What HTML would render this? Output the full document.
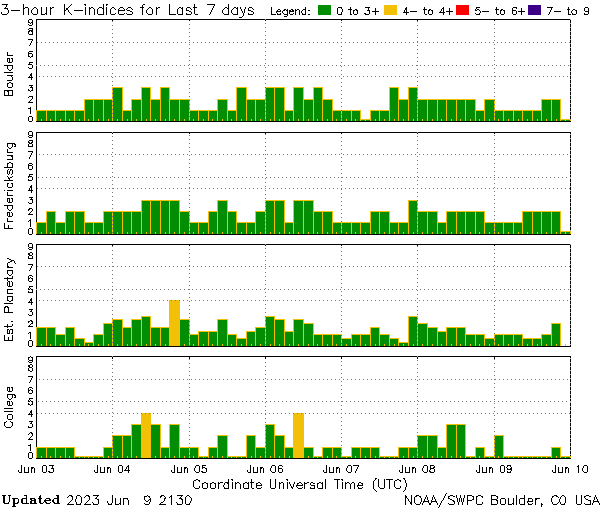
<!DOCTYPE html>
<html><head><meta charset="utf-8"><title>3-hour K-indices for Last 7 days</title>
<style>html,body{margin:0;padding:0;background:#fff;font-family:"Liberation Sans",sans-serif}svg{display:block}</style></head>
<body><svg width="600" height="510" viewBox="0 0 600 510" shape-rendering="crispEdges">
<title>3-hour K-indices for Last 7 days</title>
<desc>Legend: 0 to 3+ (green), 4- to 4+ (yellow), 5- to 6+ (red), 7- to 9 (purple). Panels: Boulder, Fredericksburg, Est. Planetary, College. X axis Jun 03 to Jun 10, Coordinate Universal Time (UTC). Updated 2023 Jun 9 2130. NOAA/SWPC Boulder, CO USA</desc>
<rect width="600" height="510" fill="#fff"/>
<g id="panel0">
<rect x="36" y="19" width="535" height="1" fill="#000"/>
<rect x="36" y="19" width="1" height="103" fill="#000"/>
<rect x="570" y="19" width="1" height="103" fill="#000"/>
<rect x="36" y="110" width="11" height="11" fill="#f3c008"/>
<rect x="37" y="111" width="9" height="10" fill="#038d03"/>
<rect x="46" y="110" width="10" height="11" fill="#f3c008"/>
<rect x="47" y="111" width="8" height="10" fill="#038d03"/>
<rect x="55" y="110" width="11" height="11" fill="#f3c008"/>
<rect x="56" y="111" width="9" height="10" fill="#038d03"/>
<rect x="65" y="110" width="10" height="11" fill="#f3c008"/>
<rect x="66" y="111" width="8" height="10" fill="#038d03"/>
<rect x="74" y="110" width="11" height="11" fill="#f3c008"/>
<rect x="75" y="111" width="9" height="10" fill="#038d03"/>
<rect x="84" y="99" width="10" height="22" fill="#f3c008"/>
<rect x="85" y="100" width="8" height="21" fill="#038d03"/>
<rect x="93" y="99" width="11" height="22" fill="#f3c008"/>
<rect x="94" y="100" width="9" height="21" fill="#038d03"/>
<rect x="103" y="99" width="10" height="22" fill="#f3c008"/>
<rect x="104" y="100" width="8" height="21" fill="#038d03"/>
<rect x="112" y="87" width="11" height="34" fill="#f3c008"/>
<rect x="113" y="88" width="9" height="33" fill="#038d03"/>
<rect x="122" y="110" width="10" height="11" fill="#f3c008"/>
<rect x="123" y="111" width="8" height="10" fill="#038d03"/>
<rect x="131" y="99" width="11" height="22" fill="#f3c008"/>
<rect x="132" y="100" width="9" height="21" fill="#038d03"/>
<rect x="141" y="87" width="10" height="34" fill="#f3c008"/>
<rect x="142" y="88" width="8" height="33" fill="#038d03"/>
<rect x="150" y="99" width="11" height="22" fill="#f3c008"/>
<rect x="151" y="100" width="9" height="21" fill="#038d03"/>
<rect x="160" y="87" width="10" height="34" fill="#f3c008"/>
<rect x="161" y="88" width="8" height="33" fill="#038d03"/>
<rect x="169" y="99" width="11" height="22" fill="#f3c008"/>
<rect x="170" y="100" width="9" height="21" fill="#038d03"/>
<rect x="179" y="99" width="11" height="22" fill="#f3c008"/>
<rect x="180" y="100" width="9" height="21" fill="#038d03"/>
<rect x="189" y="110" width="10" height="11" fill="#f3c008"/>
<rect x="190" y="111" width="8" height="10" fill="#038d03"/>
<rect x="198" y="110" width="11" height="11" fill="#f3c008"/>
<rect x="199" y="111" width="9" height="10" fill="#038d03"/>
<rect x="208" y="110" width="10" height="11" fill="#f3c008"/>
<rect x="209" y="111" width="8" height="10" fill="#038d03"/>
<rect x="217" y="99" width="11" height="22" fill="#f3c008"/>
<rect x="218" y="100" width="9" height="21" fill="#038d03"/>
<rect x="227" y="110" width="10" height="11" fill="#f3c008"/>
<rect x="228" y="111" width="8" height="10" fill="#038d03"/>
<rect x="236" y="87" width="11" height="34" fill="#f3c008"/>
<rect x="237" y="88" width="9" height="33" fill="#038d03"/>
<rect x="246" y="99" width="10" height="22" fill="#f3c008"/>
<rect x="247" y="100" width="8" height="21" fill="#038d03"/>
<rect x="255" y="99" width="11" height="22" fill="#f3c008"/>
<rect x="256" y="100" width="9" height="21" fill="#038d03"/>
<rect x="265" y="87" width="10" height="34" fill="#f3c008"/>
<rect x="266" y="88" width="8" height="33" fill="#038d03"/>
<rect x="274" y="87" width="11" height="34" fill="#f3c008"/>
<rect x="275" y="88" width="9" height="33" fill="#038d03"/>
<rect x="284" y="110" width="10" height="11" fill="#f3c008"/>
<rect x="285" y="111" width="8" height="10" fill="#038d03"/>
<rect x="293" y="87" width="11" height="34" fill="#f3c008"/>
<rect x="294" y="88" width="9" height="33" fill="#038d03"/>
<rect x="303" y="99" width="11" height="22" fill="#f3c008"/>
<rect x="304" y="100" width="9" height="21" fill="#038d03"/>
<rect x="313" y="87" width="10" height="34" fill="#f3c008"/>
<rect x="314" y="88" width="8" height="33" fill="#038d03"/>
<rect x="322" y="99" width="11" height="22" fill="#f3c008"/>
<rect x="323" y="100" width="9" height="21" fill="#038d03"/>
<rect x="332" y="110" width="10" height="11" fill="#f3c008"/>
<rect x="333" y="111" width="8" height="10" fill="#038d03"/>
<rect x="341" y="110" width="11" height="11" fill="#f3c008"/>
<rect x="342" y="111" width="9" height="10" fill="#038d03"/>
<rect x="351" y="110" width="10" height="11" fill="#f3c008"/>
<rect x="352" y="111" width="8" height="10" fill="#038d03"/>
<rect x="360" y="119" width="11" height="2" fill="#f3c008"/>
<rect x="361" y="120" width="9" height="1" fill="#038d03"/>
<rect x="370" y="110" width="10" height="11" fill="#f3c008"/>
<rect x="371" y="111" width="8" height="10" fill="#038d03"/>
<rect x="379" y="110" width="11" height="11" fill="#f3c008"/>
<rect x="380" y="111" width="9" height="10" fill="#038d03"/>
<rect x="389" y="87" width="10" height="34" fill="#f3c008"/>
<rect x="390" y="88" width="8" height="33" fill="#038d03"/>
<rect x="398" y="99" width="11" height="22" fill="#f3c008"/>
<rect x="399" y="100" width="9" height="21" fill="#038d03"/>
<rect x="408" y="87" width="10" height="34" fill="#f3c008"/>
<rect x="409" y="88" width="8" height="33" fill="#038d03"/>
<rect x="417" y="99" width="11" height="22" fill="#f3c008"/>
<rect x="418" y="100" width="9" height="21" fill="#038d03"/>
<rect x="427" y="99" width="11" height="22" fill="#f3c008"/>
<rect x="428" y="100" width="9" height="21" fill="#038d03"/>
<rect x="437" y="99" width="10" height="22" fill="#f3c008"/>
<rect x="438" y="100" width="8" height="21" fill="#038d03"/>
<rect x="446" y="99" width="11" height="22" fill="#f3c008"/>
<rect x="447" y="100" width="9" height="21" fill="#038d03"/>
<rect x="456" y="99" width="10" height="22" fill="#f3c008"/>
<rect x="457" y="100" width="8" height="21" fill="#038d03"/>
<rect x="465" y="99" width="11" height="22" fill="#f3c008"/>
<rect x="466" y="100" width="9" height="21" fill="#038d03"/>
<rect x="475" y="110" width="10" height="11" fill="#f3c008"/>
<rect x="476" y="111" width="8" height="10" fill="#038d03"/>
<rect x="484" y="99" width="11" height="22" fill="#f3c008"/>
<rect x="485" y="100" width="9" height="21" fill="#038d03"/>
<rect x="494" y="110" width="10" height="11" fill="#f3c008"/>
<rect x="495" y="111" width="8" height="10" fill="#038d03"/>
<rect x="503" y="110" width="11" height="11" fill="#f3c008"/>
<rect x="504" y="111" width="9" height="10" fill="#038d03"/>
<rect x="513" y="110" width="10" height="11" fill="#f3c008"/>
<rect x="514" y="111" width="8" height="10" fill="#038d03"/>
<rect x="522" y="110" width="11" height="11" fill="#f3c008"/>
<rect x="523" y="111" width="9" height="10" fill="#038d03"/>
<rect x="532" y="110" width="10" height="11" fill="#f3c008"/>
<rect x="533" y="111" width="8" height="10" fill="#038d03"/>
<rect x="541" y="99" width="11" height="22" fill="#f3c008"/>
<rect x="542" y="100" width="9" height="21" fill="#038d03"/>
<rect x="551" y="99" width="10" height="22" fill="#f3c008"/>
<rect x="552" y="100" width="8" height="21" fill="#038d03"/>
<rect x="560" y="119" width="11" height="2" fill="#f3c008"/>
<rect x="561" y="120" width="9" height="1" fill="#038d03"/>
<rect x="41" y="119" width="1" height="2" fill="#f3c008"/>
<rect x="50" y="119" width="1" height="2" fill="#f3c008"/>
<rect x="60" y="119" width="1" height="2" fill="#f3c008"/>
<rect x="69" y="119" width="1" height="2" fill="#f3c008"/>
<rect x="79" y="119" width="1" height="2" fill="#f3c008"/>
<rect x="88" y="119" width="1" height="2" fill="#f3c008"/>
<rect x="98" y="119" width="1" height="2" fill="#f3c008"/>
<rect x="108" y="119" width="1" height="2" fill="#f3c008"/>
<rect x="117" y="119" width="1" height="2" fill="#f3c008"/>
<rect x="127" y="119" width="1" height="2" fill="#f3c008"/>
<rect x="136" y="119" width="1" height="2" fill="#f3c008"/>
<rect x="146" y="119" width="1" height="2" fill="#f3c008"/>
<rect x="155" y="119" width="1" height="2" fill="#f3c008"/>
<rect x="165" y="119" width="1" height="2" fill="#f3c008"/>
<rect x="174" y="119" width="1" height="2" fill="#f3c008"/>
<rect x="184" y="119" width="1" height="2" fill="#f3c008"/>
<rect x="193" y="119" width="1" height="2" fill="#f3c008"/>
<rect x="203" y="119" width="1" height="2" fill="#f3c008"/>
<rect x="212" y="119" width="1" height="2" fill="#f3c008"/>
<rect x="222" y="119" width="1" height="2" fill="#f3c008"/>
<rect x="231" y="119" width="1" height="2" fill="#f3c008"/>
<rect x="241" y="119" width="1" height="2" fill="#f3c008"/>
<rect x="251" y="119" width="1" height="2" fill="#f3c008"/>
<rect x="260" y="119" width="1" height="2" fill="#f3c008"/>
<rect x="270" y="119" width="1" height="2" fill="#f3c008"/>
<rect x="279" y="119" width="1" height="2" fill="#f3c008"/>
<rect x="289" y="119" width="1" height="2" fill="#f3c008"/>
<rect x="298" y="119" width="1" height="2" fill="#f3c008"/>
<rect x="308" y="119" width="1" height="2" fill="#f3c008"/>
<rect x="317" y="119" width="1" height="2" fill="#f3c008"/>
<rect x="327" y="119" width="1" height="2" fill="#f3c008"/>
<rect x="336" y="119" width="1" height="2" fill="#f3c008"/>
<rect x="346" y="119" width="1" height="2" fill="#f3c008"/>
<rect x="355" y="119" width="1" height="2" fill="#f3c008"/>
<rect x="365" y="119" width="1" height="2" fill="#f3c008"/>
<rect x="375" y="119" width="1" height="2" fill="#f3c008"/>
<rect x="384" y="119" width="1" height="2" fill="#f3c008"/>
<rect x="394" y="119" width="1" height="2" fill="#f3c008"/>
<rect x="403" y="119" width="1" height="2" fill="#f3c008"/>
<rect x="413" y="119" width="1" height="2" fill="#f3c008"/>
<rect x="422" y="119" width="1" height="2" fill="#f3c008"/>
<rect x="432" y="119" width="1" height="2" fill="#f3c008"/>
<rect x="441" y="119" width="1" height="2" fill="#f3c008"/>
<rect x="451" y="119" width="1" height="2" fill="#f3c008"/>
<rect x="460" y="119" width="1" height="2" fill="#f3c008"/>
<rect x="470" y="119" width="1" height="2" fill="#f3c008"/>
<rect x="479" y="119" width="1" height="2" fill="#f3c008"/>
<rect x="489" y="119" width="1" height="2" fill="#f3c008"/>
<rect x="498" y="119" width="1" height="2" fill="#f3c008"/>
<rect x="508" y="119" width="1" height="2" fill="#f3c008"/>
<rect x="518" y="119" width="1" height="2" fill="#f3c008"/>
<rect x="527" y="119" width="1" height="2" fill="#f3c008"/>
<rect x="537" y="119" width="1" height="2" fill="#f3c008"/>
<rect x="546" y="119" width="1" height="2" fill="#f3c008"/>
<rect x="556" y="119" width="1" height="2" fill="#f3c008"/>
<rect x="565" y="119" width="1" height="2" fill="#f3c008"/>
<rect x="36" y="121" width="535" height="1" fill="#000"/>
</g>
<g id="panel1">
<rect x="36" y="132" width="535" height="1" fill="#000"/>
<rect x="36" y="132" width="1" height="103" fill="#000"/>
<rect x="570" y="132" width="1" height="103" fill="#000"/>
<rect x="36" y="222" width="11" height="12" fill="#f3c008"/>
<rect x="37" y="223" width="9" height="11" fill="#038d03"/>
<rect x="46" y="211" width="10" height="23" fill="#f3c008"/>
<rect x="47" y="212" width="8" height="22" fill="#038d03"/>
<rect x="55" y="222" width="11" height="12" fill="#f3c008"/>
<rect x="56" y="223" width="9" height="11" fill="#038d03"/>
<rect x="65" y="211" width="10" height="23" fill="#f3c008"/>
<rect x="66" y="212" width="8" height="22" fill="#038d03"/>
<rect x="74" y="211" width="11" height="23" fill="#f3c008"/>
<rect x="75" y="212" width="9" height="22" fill="#038d03"/>
<rect x="84" y="222" width="10" height="12" fill="#f3c008"/>
<rect x="85" y="223" width="8" height="11" fill="#038d03"/>
<rect x="93" y="222" width="11" height="12" fill="#f3c008"/>
<rect x="94" y="223" width="9" height="11" fill="#038d03"/>
<rect x="103" y="211" width="10" height="23" fill="#f3c008"/>
<rect x="104" y="212" width="8" height="22" fill="#038d03"/>
<rect x="112" y="211" width="11" height="23" fill="#f3c008"/>
<rect x="113" y="212" width="9" height="22" fill="#038d03"/>
<rect x="122" y="211" width="10" height="23" fill="#f3c008"/>
<rect x="123" y="212" width="8" height="22" fill="#038d03"/>
<rect x="131" y="211" width="11" height="23" fill="#f3c008"/>
<rect x="132" y="212" width="9" height="22" fill="#038d03"/>
<rect x="141" y="200" width="10" height="34" fill="#f3c008"/>
<rect x="142" y="201" width="8" height="33" fill="#038d03"/>
<rect x="150" y="200" width="11" height="34" fill="#f3c008"/>
<rect x="151" y="201" width="9" height="33" fill="#038d03"/>
<rect x="160" y="200" width="10" height="34" fill="#f3c008"/>
<rect x="161" y="201" width="8" height="33" fill="#038d03"/>
<rect x="169" y="200" width="11" height="34" fill="#f3c008"/>
<rect x="170" y="201" width="9" height="33" fill="#038d03"/>
<rect x="179" y="211" width="11" height="23" fill="#f3c008"/>
<rect x="180" y="212" width="9" height="22" fill="#038d03"/>
<rect x="189" y="222" width="10" height="12" fill="#f3c008"/>
<rect x="190" y="223" width="8" height="11" fill="#038d03"/>
<rect x="198" y="222" width="11" height="12" fill="#f3c008"/>
<rect x="199" y="223" width="9" height="11" fill="#038d03"/>
<rect x="208" y="211" width="10" height="23" fill="#f3c008"/>
<rect x="209" y="212" width="8" height="22" fill="#038d03"/>
<rect x="217" y="200" width="11" height="34" fill="#f3c008"/>
<rect x="218" y="201" width="9" height="33" fill="#038d03"/>
<rect x="227" y="211" width="10" height="23" fill="#f3c008"/>
<rect x="228" y="212" width="8" height="22" fill="#038d03"/>
<rect x="236" y="222" width="11" height="12" fill="#f3c008"/>
<rect x="237" y="223" width="9" height="11" fill="#038d03"/>
<rect x="246" y="222" width="10" height="12" fill="#f3c008"/>
<rect x="247" y="223" width="8" height="11" fill="#038d03"/>
<rect x="255" y="211" width="11" height="23" fill="#f3c008"/>
<rect x="256" y="212" width="9" height="22" fill="#038d03"/>
<rect x="265" y="200" width="10" height="34" fill="#f3c008"/>
<rect x="266" y="201" width="8" height="33" fill="#038d03"/>
<rect x="274" y="200" width="11" height="34" fill="#f3c008"/>
<rect x="275" y="201" width="9" height="33" fill="#038d03"/>
<rect x="284" y="222" width="10" height="12" fill="#f3c008"/>
<rect x="285" y="223" width="8" height="11" fill="#038d03"/>
<rect x="293" y="200" width="11" height="34" fill="#f3c008"/>
<rect x="294" y="201" width="9" height="33" fill="#038d03"/>
<rect x="303" y="200" width="11" height="34" fill="#f3c008"/>
<rect x="304" y="201" width="9" height="33" fill="#038d03"/>
<rect x="313" y="211" width="10" height="23" fill="#f3c008"/>
<rect x="314" y="212" width="8" height="22" fill="#038d03"/>
<rect x="322" y="211" width="11" height="23" fill="#f3c008"/>
<rect x="323" y="212" width="9" height="22" fill="#038d03"/>
<rect x="332" y="222" width="10" height="12" fill="#f3c008"/>
<rect x="333" y="223" width="8" height="11" fill="#038d03"/>
<rect x="341" y="222" width="11" height="12" fill="#f3c008"/>
<rect x="342" y="223" width="9" height="11" fill="#038d03"/>
<rect x="351" y="222" width="10" height="12" fill="#f3c008"/>
<rect x="352" y="223" width="8" height="11" fill="#038d03"/>
<rect x="360" y="222" width="11" height="12" fill="#f3c008"/>
<rect x="361" y="223" width="9" height="11" fill="#038d03"/>
<rect x="370" y="211" width="10" height="23" fill="#f3c008"/>
<rect x="371" y="212" width="8" height="22" fill="#038d03"/>
<rect x="379" y="211" width="11" height="23" fill="#f3c008"/>
<rect x="380" y="212" width="9" height="22" fill="#038d03"/>
<rect x="389" y="222" width="10" height="12" fill="#f3c008"/>
<rect x="390" y="223" width="8" height="11" fill="#038d03"/>
<rect x="398" y="222" width="11" height="12" fill="#f3c008"/>
<rect x="399" y="223" width="9" height="11" fill="#038d03"/>
<rect x="408" y="200" width="10" height="34" fill="#f3c008"/>
<rect x="409" y="201" width="8" height="33" fill="#038d03"/>
<rect x="417" y="211" width="11" height="23" fill="#f3c008"/>
<rect x="418" y="212" width="9" height="22" fill="#038d03"/>
<rect x="427" y="211" width="11" height="23" fill="#f3c008"/>
<rect x="428" y="212" width="9" height="22" fill="#038d03"/>
<rect x="437" y="222" width="10" height="12" fill="#f3c008"/>
<rect x="438" y="223" width="8" height="11" fill="#038d03"/>
<rect x="446" y="211" width="11" height="23" fill="#f3c008"/>
<rect x="447" y="212" width="9" height="22" fill="#038d03"/>
<rect x="456" y="211" width="10" height="23" fill="#f3c008"/>
<rect x="457" y="212" width="8" height="22" fill="#038d03"/>
<rect x="465" y="211" width="11" height="23" fill="#f3c008"/>
<rect x="466" y="212" width="9" height="22" fill="#038d03"/>
<rect x="475" y="211" width="10" height="23" fill="#f3c008"/>
<rect x="476" y="212" width="8" height="22" fill="#038d03"/>
<rect x="484" y="222" width="11" height="12" fill="#f3c008"/>
<rect x="485" y="223" width="9" height="11" fill="#038d03"/>
<rect x="494" y="222" width="10" height="12" fill="#f3c008"/>
<rect x="495" y="223" width="8" height="11" fill="#038d03"/>
<rect x="503" y="222" width="11" height="12" fill="#f3c008"/>
<rect x="504" y="223" width="9" height="11" fill="#038d03"/>
<rect x="513" y="222" width="10" height="12" fill="#f3c008"/>
<rect x="514" y="223" width="8" height="11" fill="#038d03"/>
<rect x="522" y="211" width="11" height="23" fill="#f3c008"/>
<rect x="523" y="212" width="9" height="22" fill="#038d03"/>
<rect x="532" y="211" width="10" height="23" fill="#f3c008"/>
<rect x="533" y="212" width="8" height="22" fill="#038d03"/>
<rect x="541" y="211" width="11" height="23" fill="#f3c008"/>
<rect x="542" y="212" width="9" height="22" fill="#038d03"/>
<rect x="551" y="211" width="10" height="23" fill="#f3c008"/>
<rect x="552" y="212" width="8" height="22" fill="#038d03"/>
<rect x="560" y="231" width="11" height="3" fill="#f3c008"/>
<rect x="561" y="232" width="9" height="2" fill="#038d03"/>
<rect x="41" y="232" width="1" height="2" fill="#f3c008"/>
<rect x="50" y="232" width="1" height="2" fill="#f3c008"/>
<rect x="60" y="232" width="1" height="2" fill="#f3c008"/>
<rect x="69" y="232" width="1" height="2" fill="#f3c008"/>
<rect x="79" y="232" width="1" height="2" fill="#f3c008"/>
<rect x="88" y="232" width="1" height="2" fill="#f3c008"/>
<rect x="98" y="232" width="1" height="2" fill="#f3c008"/>
<rect x="108" y="232" width="1" height="2" fill="#f3c008"/>
<rect x="117" y="232" width="1" height="2" fill="#f3c008"/>
<rect x="127" y="232" width="1" height="2" fill="#f3c008"/>
<rect x="136" y="232" width="1" height="2" fill="#f3c008"/>
<rect x="146" y="232" width="1" height="2" fill="#f3c008"/>
<rect x="155" y="232" width="1" height="2" fill="#f3c008"/>
<rect x="165" y="232" width="1" height="2" fill="#f3c008"/>
<rect x="174" y="232" width="1" height="2" fill="#f3c008"/>
<rect x="184" y="232" width="1" height="2" fill="#f3c008"/>
<rect x="193" y="232" width="1" height="2" fill="#f3c008"/>
<rect x="203" y="232" width="1" height="2" fill="#f3c008"/>
<rect x="212" y="232" width="1" height="2" fill="#f3c008"/>
<rect x="222" y="232" width="1" height="2" fill="#f3c008"/>
<rect x="231" y="232" width="1" height="2" fill="#f3c008"/>
<rect x="241" y="232" width="1" height="2" fill="#f3c008"/>
<rect x="251" y="232" width="1" height="2" fill="#f3c008"/>
<rect x="260" y="232" width="1" height="2" fill="#f3c008"/>
<rect x="270" y="232" width="1" height="2" fill="#f3c008"/>
<rect x="279" y="232" width="1" height="2" fill="#f3c008"/>
<rect x="289" y="232" width="1" height="2" fill="#f3c008"/>
<rect x="298" y="232" width="1" height="2" fill="#f3c008"/>
<rect x="308" y="232" width="1" height="2" fill="#f3c008"/>
<rect x="317" y="232" width="1" height="2" fill="#f3c008"/>
<rect x="327" y="232" width="1" height="2" fill="#f3c008"/>
<rect x="336" y="232" width="1" height="2" fill="#f3c008"/>
<rect x="346" y="232" width="1" height="2" fill="#f3c008"/>
<rect x="355" y="232" width="1" height="2" fill="#f3c008"/>
<rect x="365" y="232" width="1" height="2" fill="#f3c008"/>
<rect x="375" y="232" width="1" height="2" fill="#f3c008"/>
<rect x="384" y="232" width="1" height="2" fill="#f3c008"/>
<rect x="394" y="232" width="1" height="2" fill="#f3c008"/>
<rect x="403" y="232" width="1" height="2" fill="#f3c008"/>
<rect x="413" y="232" width="1" height="2" fill="#f3c008"/>
<rect x="422" y="232" width="1" height="2" fill="#f3c008"/>
<rect x="432" y="232" width="1" height="2" fill="#f3c008"/>
<rect x="441" y="232" width="1" height="2" fill="#f3c008"/>
<rect x="451" y="232" width="1" height="2" fill="#f3c008"/>
<rect x="460" y="232" width="1" height="2" fill="#f3c008"/>
<rect x="470" y="232" width="1" height="2" fill="#f3c008"/>
<rect x="479" y="232" width="1" height="2" fill="#f3c008"/>
<rect x="489" y="232" width="1" height="2" fill="#f3c008"/>
<rect x="498" y="232" width="1" height="2" fill="#f3c008"/>
<rect x="508" y="232" width="1" height="2" fill="#f3c008"/>
<rect x="518" y="232" width="1" height="2" fill="#f3c008"/>
<rect x="527" y="232" width="1" height="2" fill="#f3c008"/>
<rect x="537" y="232" width="1" height="2" fill="#f3c008"/>
<rect x="546" y="232" width="1" height="2" fill="#f3c008"/>
<rect x="556" y="232" width="1" height="2" fill="#f3c008"/>
<rect x="565" y="232" width="1" height="2" fill="#f3c008"/>
<rect x="36" y="234" width="535" height="1" fill="#000"/>
</g>
<g id="panel2">
<rect x="36" y="244" width="535" height="1" fill="#000"/>
<rect x="36" y="244" width="1" height="103" fill="#000"/>
<rect x="570" y="244" width="1" height="103" fill="#000"/>
<rect x="36" y="327" width="11" height="19" fill="#f3c008"/>
<rect x="37" y="328" width="9" height="18" fill="#038d03"/>
<rect x="46" y="327" width="10" height="19" fill="#f3c008"/>
<rect x="47" y="328" width="8" height="18" fill="#038d03"/>
<rect x="55" y="334" width="11" height="12" fill="#f3c008"/>
<rect x="56" y="335" width="9" height="11" fill="#038d03"/>
<rect x="65" y="327" width="10" height="19" fill="#f3c008"/>
<rect x="66" y="328" width="8" height="18" fill="#038d03"/>
<rect x="74" y="338" width="11" height="8" fill="#f3c008"/>
<rect x="75" y="339" width="9" height="7" fill="#038d03"/>
<rect x="84" y="342" width="10" height="4" fill="#f3c008"/>
<rect x="85" y="343" width="8" height="3" fill="#038d03"/>
<rect x="93" y="334" width="11" height="12" fill="#f3c008"/>
<rect x="94" y="335" width="9" height="11" fill="#038d03"/>
<rect x="103" y="323" width="10" height="23" fill="#f3c008"/>
<rect x="104" y="324" width="8" height="22" fill="#038d03"/>
<rect x="112" y="319" width="11" height="27" fill="#f3c008"/>
<rect x="113" y="320" width="9" height="26" fill="#038d03"/>
<rect x="122" y="327" width="10" height="19" fill="#f3c008"/>
<rect x="123" y="328" width="8" height="18" fill="#038d03"/>
<rect x="131" y="319" width="11" height="27" fill="#f3c008"/>
<rect x="132" y="320" width="9" height="26" fill="#038d03"/>
<rect x="141" y="316" width="10" height="30" fill="#f3c008"/>
<rect x="142" y="317" width="8" height="29" fill="#038d03"/>
<rect x="150" y="327" width="11" height="19" fill="#f3c008"/>
<rect x="151" y="328" width="9" height="18" fill="#038d03"/>
<rect x="160" y="327" width="10" height="19" fill="#f3c008"/>
<rect x="161" y="328" width="8" height="18" fill="#038d03"/>
<rect x="169" y="300" width="11" height="46" fill="#f3c008"/>
<rect x="179" y="319" width="11" height="27" fill="#f3c008"/>
<rect x="180" y="320" width="9" height="26" fill="#038d03"/>
<rect x="189" y="334" width="10" height="12" fill="#f3c008"/>
<rect x="190" y="335" width="8" height="11" fill="#038d03"/>
<rect x="198" y="331" width="11" height="15" fill="#f3c008"/>
<rect x="199" y="332" width="9" height="14" fill="#038d03"/>
<rect x="208" y="331" width="10" height="15" fill="#f3c008"/>
<rect x="209" y="332" width="8" height="14" fill="#038d03"/>
<rect x="217" y="319" width="11" height="27" fill="#f3c008"/>
<rect x="218" y="320" width="9" height="26" fill="#038d03"/>
<rect x="227" y="334" width="10" height="12" fill="#f3c008"/>
<rect x="228" y="335" width="8" height="11" fill="#038d03"/>
<rect x="236" y="338" width="11" height="8" fill="#f3c008"/>
<rect x="237" y="339" width="9" height="7" fill="#038d03"/>
<rect x="246" y="331" width="10" height="15" fill="#f3c008"/>
<rect x="247" y="332" width="8" height="14" fill="#038d03"/>
<rect x="255" y="327" width="11" height="19" fill="#f3c008"/>
<rect x="256" y="328" width="9" height="18" fill="#038d03"/>
<rect x="265" y="316" width="10" height="30" fill="#f3c008"/>
<rect x="266" y="317" width="8" height="29" fill="#038d03"/>
<rect x="274" y="319" width="11" height="27" fill="#f3c008"/>
<rect x="275" y="320" width="9" height="26" fill="#038d03"/>
<rect x="284" y="331" width="10" height="15" fill="#f3c008"/>
<rect x="285" y="332" width="8" height="14" fill="#038d03"/>
<rect x="293" y="319" width="11" height="27" fill="#f3c008"/>
<rect x="294" y="320" width="9" height="26" fill="#038d03"/>
<rect x="303" y="323" width="11" height="23" fill="#f3c008"/>
<rect x="304" y="324" width="9" height="22" fill="#038d03"/>
<rect x="313" y="334" width="10" height="12" fill="#f3c008"/>
<rect x="314" y="335" width="8" height="11" fill="#038d03"/>
<rect x="322" y="334" width="11" height="12" fill="#f3c008"/>
<rect x="323" y="335" width="9" height="11" fill="#038d03"/>
<rect x="332" y="334" width="10" height="12" fill="#f3c008"/>
<rect x="333" y="335" width="8" height="11" fill="#038d03"/>
<rect x="341" y="338" width="11" height="8" fill="#f3c008"/>
<rect x="342" y="339" width="9" height="7" fill="#038d03"/>
<rect x="351" y="334" width="10" height="12" fill="#f3c008"/>
<rect x="352" y="335" width="8" height="11" fill="#038d03"/>
<rect x="360" y="334" width="11" height="12" fill="#f3c008"/>
<rect x="361" y="335" width="9" height="11" fill="#038d03"/>
<rect x="370" y="327" width="10" height="19" fill="#f3c008"/>
<rect x="371" y="328" width="8" height="18" fill="#038d03"/>
<rect x="379" y="334" width="11" height="12" fill="#f3c008"/>
<rect x="380" y="335" width="9" height="11" fill="#038d03"/>
<rect x="389" y="338" width="10" height="8" fill="#f3c008"/>
<rect x="390" y="339" width="8" height="7" fill="#038d03"/>
<rect x="398" y="342" width="11" height="4" fill="#f3c008"/>
<rect x="399" y="343" width="9" height="3" fill="#038d03"/>
<rect x="408" y="316" width="10" height="30" fill="#f3c008"/>
<rect x="409" y="317" width="8" height="29" fill="#038d03"/>
<rect x="417" y="323" width="11" height="23" fill="#f3c008"/>
<rect x="418" y="324" width="9" height="22" fill="#038d03"/>
<rect x="427" y="327" width="11" height="19" fill="#f3c008"/>
<rect x="428" y="328" width="9" height="18" fill="#038d03"/>
<rect x="437" y="331" width="10" height="15" fill="#f3c008"/>
<rect x="438" y="332" width="8" height="14" fill="#038d03"/>
<rect x="446" y="327" width="11" height="19" fill="#f3c008"/>
<rect x="447" y="328" width="9" height="18" fill="#038d03"/>
<rect x="456" y="327" width="10" height="19" fill="#f3c008"/>
<rect x="457" y="328" width="8" height="18" fill="#038d03"/>
<rect x="465" y="334" width="11" height="12" fill="#f3c008"/>
<rect x="466" y="335" width="9" height="11" fill="#038d03"/>
<rect x="475" y="334" width="10" height="12" fill="#f3c008"/>
<rect x="476" y="335" width="8" height="11" fill="#038d03"/>
<rect x="484" y="338" width="11" height="8" fill="#f3c008"/>
<rect x="485" y="339" width="9" height="7" fill="#038d03"/>
<rect x="494" y="334" width="10" height="12" fill="#f3c008"/>
<rect x="495" y="335" width="8" height="11" fill="#038d03"/>
<rect x="503" y="334" width="11" height="12" fill="#f3c008"/>
<rect x="504" y="335" width="9" height="11" fill="#038d03"/>
<rect x="513" y="334" width="10" height="12" fill="#f3c008"/>
<rect x="514" y="335" width="8" height="11" fill="#038d03"/>
<rect x="522" y="338" width="11" height="8" fill="#f3c008"/>
<rect x="523" y="339" width="9" height="7" fill="#038d03"/>
<rect x="532" y="338" width="10" height="8" fill="#f3c008"/>
<rect x="533" y="339" width="8" height="7" fill="#038d03"/>
<rect x="541" y="334" width="11" height="12" fill="#f3c008"/>
<rect x="542" y="335" width="9" height="11" fill="#038d03"/>
<rect x="551" y="323" width="10" height="23" fill="#f3c008"/>
<rect x="552" y="324" width="8" height="22" fill="#038d03"/>
<rect x="41" y="344" width="1" height="2" fill="#f3c008"/>
<rect x="50" y="344" width="1" height="2" fill="#f3c008"/>
<rect x="60" y="344" width="1" height="2" fill="#f3c008"/>
<rect x="69" y="344" width="1" height="2" fill="#f3c008"/>
<rect x="79" y="344" width="1" height="2" fill="#f3c008"/>
<rect x="88" y="344" width="1" height="2" fill="#f3c008"/>
<rect x="98" y="344" width="1" height="2" fill="#f3c008"/>
<rect x="108" y="344" width="1" height="2" fill="#f3c008"/>
<rect x="117" y="344" width="1" height="2" fill="#f3c008"/>
<rect x="127" y="344" width="1" height="2" fill="#f3c008"/>
<rect x="136" y="344" width="1" height="2" fill="#f3c008"/>
<rect x="146" y="344" width="1" height="2" fill="#f3c008"/>
<rect x="155" y="344" width="1" height="2" fill="#f3c008"/>
<rect x="165" y="344" width="1" height="2" fill="#f3c008"/>
<rect x="174" y="344" width="1" height="2" fill="#f3c008"/>
<rect x="184" y="344" width="1" height="2" fill="#f3c008"/>
<rect x="193" y="344" width="1" height="2" fill="#f3c008"/>
<rect x="203" y="344" width="1" height="2" fill="#f3c008"/>
<rect x="212" y="344" width="1" height="2" fill="#f3c008"/>
<rect x="222" y="344" width="1" height="2" fill="#f3c008"/>
<rect x="231" y="344" width="1" height="2" fill="#f3c008"/>
<rect x="241" y="344" width="1" height="2" fill="#f3c008"/>
<rect x="251" y="344" width="1" height="2" fill="#f3c008"/>
<rect x="260" y="344" width="1" height="2" fill="#f3c008"/>
<rect x="270" y="344" width="1" height="2" fill="#f3c008"/>
<rect x="279" y="344" width="1" height="2" fill="#f3c008"/>
<rect x="289" y="344" width="1" height="2" fill="#f3c008"/>
<rect x="298" y="344" width="1" height="2" fill="#f3c008"/>
<rect x="308" y="344" width="1" height="2" fill="#f3c008"/>
<rect x="317" y="344" width="1" height="2" fill="#f3c008"/>
<rect x="327" y="344" width="1" height="2" fill="#f3c008"/>
<rect x="336" y="344" width="1" height="2" fill="#f3c008"/>
<rect x="346" y="344" width="1" height="2" fill="#f3c008"/>
<rect x="355" y="344" width="1" height="2" fill="#f3c008"/>
<rect x="365" y="344" width="1" height="2" fill="#f3c008"/>
<rect x="375" y="344" width="1" height="2" fill="#f3c008"/>
<rect x="384" y="344" width="1" height="2" fill="#f3c008"/>
<rect x="394" y="344" width="1" height="2" fill="#f3c008"/>
<rect x="403" y="344" width="1" height="2" fill="#f3c008"/>
<rect x="413" y="344" width="1" height="2" fill="#f3c008"/>
<rect x="422" y="344" width="1" height="2" fill="#f3c008"/>
<rect x="432" y="344" width="1" height="2" fill="#f3c008"/>
<rect x="441" y="344" width="1" height="2" fill="#f3c008"/>
<rect x="451" y="344" width="1" height="2" fill="#f3c008"/>
<rect x="460" y="344" width="1" height="2" fill="#f3c008"/>
<rect x="470" y="344" width="1" height="2" fill="#f3c008"/>
<rect x="479" y="344" width="1" height="2" fill="#f3c008"/>
<rect x="489" y="344" width="1" height="2" fill="#f3c008"/>
<rect x="498" y="344" width="1" height="2" fill="#f3c008"/>
<rect x="508" y="344" width="1" height="2" fill="#f3c008"/>
<rect x="518" y="344" width="1" height="2" fill="#f3c008"/>
<rect x="527" y="344" width="1" height="2" fill="#f3c008"/>
<rect x="537" y="344" width="1" height="2" fill="#f3c008"/>
<rect x="546" y="344" width="1" height="2" fill="#f3c008"/>
<rect x="556" y="344" width="1" height="2" fill="#f3c008"/>
<rect x="565" y="344" width="1" height="2" fill="#f3c008"/>
<rect x="36" y="346" width="535" height="1" fill="#000"/>
</g>
<g id="panel3">
<rect x="36" y="356" width="535" height="1" fill="#000"/>
<rect x="36" y="356" width="1" height="103" fill="#000"/>
<rect x="570" y="356" width="1" height="103" fill="#000"/>
<rect x="36" y="447" width="11" height="11" fill="#f3c008"/>
<rect x="37" y="448" width="9" height="10" fill="#038d03"/>
<rect x="46" y="447" width="10" height="11" fill="#f3c008"/>
<rect x="47" y="448" width="8" height="10" fill="#038d03"/>
<rect x="55" y="447" width="11" height="11" fill="#f3c008"/>
<rect x="56" y="448" width="9" height="10" fill="#038d03"/>
<rect x="65" y="447" width="10" height="11" fill="#f3c008"/>
<rect x="66" y="448" width="8" height="10" fill="#038d03"/>
<rect x="74" y="456" width="11" height="2" fill="#f3c008"/>
<rect x="75" y="457" width="9" height="1" fill="#038d03"/>
<rect x="84" y="456" width="10" height="2" fill="#f3c008"/>
<rect x="85" y="457" width="8" height="1" fill="#038d03"/>
<rect x="93" y="456" width="11" height="2" fill="#f3c008"/>
<rect x="94" y="457" width="9" height="1" fill="#038d03"/>
<rect x="103" y="447" width="10" height="11" fill="#f3c008"/>
<rect x="104" y="448" width="8" height="10" fill="#038d03"/>
<rect x="112" y="435" width="11" height="23" fill="#f3c008"/>
<rect x="113" y="436" width="9" height="22" fill="#038d03"/>
<rect x="122" y="435" width="10" height="23" fill="#f3c008"/>
<rect x="123" y="436" width="8" height="22" fill="#038d03"/>
<rect x="131" y="424" width="11" height="34" fill="#f3c008"/>
<rect x="132" y="425" width="9" height="33" fill="#038d03"/>
<rect x="141" y="413" width="10" height="45" fill="#f3c008"/>
<rect x="150" y="424" width="11" height="34" fill="#f3c008"/>
<rect x="151" y="425" width="9" height="33" fill="#038d03"/>
<rect x="160" y="447" width="10" height="11" fill="#f3c008"/>
<rect x="161" y="448" width="8" height="10" fill="#038d03"/>
<rect x="169" y="424" width="11" height="34" fill="#f3c008"/>
<rect x="170" y="425" width="9" height="33" fill="#038d03"/>
<rect x="179" y="447" width="11" height="11" fill="#f3c008"/>
<rect x="180" y="448" width="9" height="10" fill="#038d03"/>
<rect x="189" y="447" width="10" height="11" fill="#f3c008"/>
<rect x="190" y="448" width="8" height="10" fill="#038d03"/>
<rect x="198" y="456" width="11" height="2" fill="#f3c008"/>
<rect x="199" y="457" width="9" height="1" fill="#038d03"/>
<rect x="208" y="447" width="10" height="11" fill="#f3c008"/>
<rect x="209" y="448" width="8" height="10" fill="#038d03"/>
<rect x="217" y="435" width="11" height="23" fill="#f3c008"/>
<rect x="218" y="436" width="9" height="22" fill="#038d03"/>
<rect x="227" y="456" width="10" height="2" fill="#f3c008"/>
<rect x="228" y="457" width="8" height="1" fill="#038d03"/>
<rect x="236" y="456" width="11" height="2" fill="#f3c008"/>
<rect x="237" y="457" width="9" height="1" fill="#038d03"/>
<rect x="246" y="435" width="10" height="23" fill="#f3c008"/>
<rect x="247" y="436" width="8" height="22" fill="#038d03"/>
<rect x="255" y="447" width="11" height="11" fill="#f3c008"/>
<rect x="256" y="448" width="9" height="10" fill="#038d03"/>
<rect x="265" y="424" width="10" height="34" fill="#f3c008"/>
<rect x="266" y="425" width="8" height="33" fill="#038d03"/>
<rect x="274" y="435" width="11" height="23" fill="#f3c008"/>
<rect x="275" y="436" width="9" height="22" fill="#038d03"/>
<rect x="284" y="447" width="10" height="11" fill="#f3c008"/>
<rect x="285" y="448" width="8" height="10" fill="#038d03"/>
<rect x="293" y="413" width="11" height="45" fill="#f3c008"/>
<rect x="303" y="447" width="11" height="11" fill="#f3c008"/>
<rect x="304" y="448" width="9" height="10" fill="#038d03"/>
<rect x="313" y="456" width="10" height="2" fill="#f3c008"/>
<rect x="314" y="457" width="8" height="1" fill="#038d03"/>
<rect x="322" y="447" width="11" height="11" fill="#f3c008"/>
<rect x="323" y="448" width="9" height="10" fill="#038d03"/>
<rect x="332" y="447" width="10" height="11" fill="#f3c008"/>
<rect x="333" y="448" width="8" height="10" fill="#038d03"/>
<rect x="341" y="456" width="11" height="2" fill="#f3c008"/>
<rect x="342" y="457" width="9" height="1" fill="#038d03"/>
<rect x="351" y="447" width="10" height="11" fill="#f3c008"/>
<rect x="352" y="448" width="8" height="10" fill="#038d03"/>
<rect x="360" y="447" width="11" height="11" fill="#f3c008"/>
<rect x="361" y="448" width="9" height="10" fill="#038d03"/>
<rect x="370" y="447" width="10" height="11" fill="#f3c008"/>
<rect x="371" y="448" width="8" height="10" fill="#038d03"/>
<rect x="379" y="456" width="11" height="2" fill="#f3c008"/>
<rect x="380" y="457" width="9" height="1" fill="#038d03"/>
<rect x="389" y="456" width="10" height="2" fill="#f3c008"/>
<rect x="390" y="457" width="8" height="1" fill="#038d03"/>
<rect x="398" y="447" width="11" height="11" fill="#f3c008"/>
<rect x="399" y="448" width="9" height="10" fill="#038d03"/>
<rect x="408" y="447" width="10" height="11" fill="#f3c008"/>
<rect x="409" y="448" width="8" height="10" fill="#038d03"/>
<rect x="417" y="435" width="11" height="23" fill="#f3c008"/>
<rect x="418" y="436" width="9" height="22" fill="#038d03"/>
<rect x="427" y="435" width="11" height="23" fill="#f3c008"/>
<rect x="428" y="436" width="9" height="22" fill="#038d03"/>
<rect x="437" y="447" width="10" height="11" fill="#f3c008"/>
<rect x="438" y="448" width="8" height="10" fill="#038d03"/>
<rect x="446" y="424" width="11" height="34" fill="#f3c008"/>
<rect x="447" y="425" width="9" height="33" fill="#038d03"/>
<rect x="456" y="424" width="10" height="34" fill="#f3c008"/>
<rect x="457" y="425" width="8" height="33" fill="#038d03"/>
<rect x="465" y="456" width="11" height="2" fill="#f3c008"/>
<rect x="466" y="457" width="9" height="1" fill="#038d03"/>
<rect x="475" y="447" width="10" height="11" fill="#f3c008"/>
<rect x="476" y="448" width="8" height="10" fill="#038d03"/>
<rect x="484" y="456" width="11" height="2" fill="#f3c008"/>
<rect x="485" y="457" width="9" height="1" fill="#038d03"/>
<rect x="494" y="435" width="10" height="23" fill="#f3c008"/>
<rect x="495" y="436" width="8" height="22" fill="#038d03"/>
<rect x="503" y="456" width="11" height="2" fill="#f3c008"/>
<rect x="504" y="457" width="9" height="1" fill="#038d03"/>
<rect x="513" y="456" width="10" height="2" fill="#f3c008"/>
<rect x="514" y="457" width="8" height="1" fill="#038d03"/>
<rect x="522" y="456" width="11" height="2" fill="#f3c008"/>
<rect x="523" y="457" width="9" height="1" fill="#038d03"/>
<rect x="532" y="456" width="10" height="2" fill="#f3c008"/>
<rect x="533" y="457" width="8" height="1" fill="#038d03"/>
<rect x="541" y="456" width="11" height="2" fill="#f3c008"/>
<rect x="542" y="457" width="9" height="1" fill="#038d03"/>
<rect x="551" y="447" width="10" height="11" fill="#f3c008"/>
<rect x="552" y="448" width="8" height="10" fill="#038d03"/>
<rect x="560" y="456" width="11" height="2" fill="#f3c008"/>
<rect x="561" y="457" width="9" height="1" fill="#038d03"/>
<rect x="41" y="456" width="1" height="2" fill="#f3c008"/>
<rect x="50" y="456" width="1" height="2" fill="#f3c008"/>
<rect x="60" y="456" width="1" height="2" fill="#f3c008"/>
<rect x="69" y="456" width="1" height="2" fill="#f3c008"/>
<rect x="79" y="456" width="1" height="2" fill="#f3c008"/>
<rect x="88" y="456" width="1" height="2" fill="#f3c008"/>
<rect x="98" y="456" width="1" height="2" fill="#f3c008"/>
<rect x="108" y="456" width="1" height="2" fill="#f3c008"/>
<rect x="117" y="456" width="1" height="2" fill="#f3c008"/>
<rect x="127" y="456" width="1" height="2" fill="#f3c008"/>
<rect x="136" y="456" width="1" height="2" fill="#f3c008"/>
<rect x="146" y="456" width="1" height="2" fill="#f3c008"/>
<rect x="155" y="456" width="1" height="2" fill="#f3c008"/>
<rect x="165" y="456" width="1" height="2" fill="#f3c008"/>
<rect x="174" y="456" width="1" height="2" fill="#f3c008"/>
<rect x="184" y="456" width="1" height="2" fill="#f3c008"/>
<rect x="193" y="456" width="1" height="2" fill="#f3c008"/>
<rect x="203" y="456" width="1" height="2" fill="#f3c008"/>
<rect x="212" y="456" width="1" height="2" fill="#f3c008"/>
<rect x="222" y="456" width="1" height="2" fill="#f3c008"/>
<rect x="231" y="456" width="1" height="2" fill="#f3c008"/>
<rect x="241" y="456" width="1" height="2" fill="#f3c008"/>
<rect x="251" y="456" width="1" height="2" fill="#f3c008"/>
<rect x="260" y="456" width="1" height="2" fill="#f3c008"/>
<rect x="270" y="456" width="1" height="2" fill="#f3c008"/>
<rect x="279" y="456" width="1" height="2" fill="#f3c008"/>
<rect x="289" y="456" width="1" height="2" fill="#f3c008"/>
<rect x="298" y="456" width="1" height="2" fill="#f3c008"/>
<rect x="308" y="456" width="1" height="2" fill="#f3c008"/>
<rect x="317" y="456" width="1" height="2" fill="#f3c008"/>
<rect x="327" y="456" width="1" height="2" fill="#f3c008"/>
<rect x="336" y="456" width="1" height="2" fill="#f3c008"/>
<rect x="346" y="456" width="1" height="2" fill="#f3c008"/>
<rect x="355" y="456" width="1" height="2" fill="#f3c008"/>
<rect x="365" y="456" width="1" height="2" fill="#f3c008"/>
<rect x="375" y="456" width="1" height="2" fill="#f3c008"/>
<rect x="384" y="456" width="1" height="2" fill="#f3c008"/>
<rect x="394" y="456" width="1" height="2" fill="#f3c008"/>
<rect x="403" y="456" width="1" height="2" fill="#f3c008"/>
<rect x="413" y="456" width="1" height="2" fill="#f3c008"/>
<rect x="422" y="456" width="1" height="2" fill="#f3c008"/>
<rect x="432" y="456" width="1" height="2" fill="#f3c008"/>
<rect x="441" y="456" width="1" height="2" fill="#f3c008"/>
<rect x="451" y="456" width="1" height="2" fill="#f3c008"/>
<rect x="460" y="456" width="1" height="2" fill="#f3c008"/>
<rect x="470" y="456" width="1" height="2" fill="#f3c008"/>
<rect x="479" y="456" width="1" height="2" fill="#f3c008"/>
<rect x="489" y="456" width="1" height="2" fill="#f3c008"/>
<rect x="498" y="456" width="1" height="2" fill="#f3c008"/>
<rect x="508" y="456" width="1" height="2" fill="#f3c008"/>
<rect x="518" y="456" width="1" height="2" fill="#f3c008"/>
<rect x="527" y="456" width="1" height="2" fill="#f3c008"/>
<rect x="537" y="456" width="1" height="2" fill="#f3c008"/>
<rect x="546" y="456" width="1" height="2" fill="#f3c008"/>
<rect x="556" y="456" width="1" height="2" fill="#f3c008"/>
<rect x="565" y="456" width="1" height="2" fill="#f3c008"/>
<rect x="36" y="458" width="535" height="1" fill="#000"/>
</g>
<g id="grid">
<path d="M189 20h1v1h-1zM494 20h1v1h-1zM112 21h1v1h-1zM417 21h1v1h-1zM341 22h1v1h-1zM265 23h1v1h-1zM189 24h1v1h-1zM494 24h1v1h-1zM112 25h1v1h-1zM417 25h1v1h-1zM341 26h1v1h-1zM265 27h1v1h-1zM189 28h1v1h-1zM494 28h1v1h-1zM112 29h1v1h-1zM417 29h1v1h-1zM341 30h1v1h-1zM265 31h1v1h-1zM189 32h1v1h-1zM494 32h1v1h-1zM112 33h1v1h-1zM417 33h1v1h-1zM341 34h1v1h-1zM265 35h1v1h-1zM189 36h1v1h-1zM494 36h1v1h-1zM112 37h1v1h-1zM417 37h1v1h-1zM341 38h1v1h-1zM265 39h1v1h-1zM189 40h1v1h-1zM494 40h1v1h-1zM112 41h1v1h-1zM417 41h1v1h-1zM37 42h1v1h-1zM41 42h1v1h-1zM45 42h1v1h-1zM49 42h1v1h-1zM53 42h1v1h-1zM57 42h1v1h-1zM61 42h1v1h-1zM65 42h1v1h-1zM69 42h1v1h-1zM73 42h1v1h-1zM77 42h1v1h-1zM81 42h1v1h-1zM85 42h1v1h-1zM89 42h1v1h-1zM93 42h1v1h-1zM97 42h1v1h-1zM101 42h1v1h-1zM105 42h1v1h-1zM109 42h1v1h-1zM113 42h1v1h-1zM117 42h1v1h-1zM121 42h1v1h-1zM125 42h1v1h-1zM129 42h1v1h-1zM133 42h1v1h-1zM137 42h1v1h-1zM141 42h1v1h-1zM145 42h1v1h-1zM149 42h1v1h-1zM153 42h1v1h-1zM157 42h1v1h-1zM161 42h1v1h-1zM165 42h1v1h-1zM169 42h1v1h-1zM173 42h1v1h-1zM177 42h1v1h-1zM181 42h1v1h-1zM185 42h1v1h-1zM189 42h1v1h-1zM193 42h1v1h-1zM197 42h1v1h-1zM201 42h1v1h-1zM205 42h1v1h-1zM209 42h1v1h-1zM213 42h1v1h-1zM217 42h1v1h-1zM221 42h1v1h-1zM225 42h1v1h-1zM229 42h1v1h-1zM233 42h1v1h-1zM237 42h1v1h-1zM241 42h1v1h-1zM245 42h1v1h-1zM249 42h1v1h-1zM253 42h1v1h-1zM257 42h1v1h-1zM261 42h1v1h-1zM265 42h1v1h-1zM269 42h1v1h-1zM273 42h1v1h-1zM277 42h1v1h-1zM281 42h1v1h-1zM285 42h1v1h-1zM289 42h1v1h-1zM293 42h1v1h-1zM297 42h1v1h-1zM301 42h1v1h-1zM305 42h1v1h-1zM309 42h1v1h-1zM313 42h1v1h-1zM317 42h1v1h-1zM321 42h1v1h-1zM325 42h1v1h-1zM329 42h1v1h-1zM333 42h1v1h-1zM337 42h1v1h-1zM341 42h1v1h-1zM345 42h1v1h-1zM349 42h1v1h-1zM353 42h1v1h-1zM357 42h1v1h-1zM361 42h1v1h-1zM365 42h1v1h-1zM369 42h1v1h-1zM373 42h1v1h-1zM377 42h1v1h-1zM381 42h1v1h-1zM385 42h1v1h-1zM389 42h1v1h-1zM393 42h1v1h-1zM397 42h1v1h-1zM401 42h1v1h-1zM405 42h1v1h-1zM409 42h1v1h-1zM413 42h1v1h-1zM417 42h1v1h-1zM421 42h1v1h-1zM425 42h1v1h-1zM429 42h1v1h-1zM433 42h1v1h-1zM437 42h1v1h-1zM441 42h1v1h-1zM445 42h1v1h-1zM449 42h1v1h-1zM453 42h1v1h-1zM457 42h1v1h-1zM461 42h1v1h-1zM465 42h1v1h-1zM469 42h1v1h-1zM473 42h1v1h-1zM477 42h1v1h-1zM481 42h1v1h-1zM485 42h1v1h-1zM489 42h1v1h-1zM493 42h1v1h-1zM497 42h1v1h-1zM501 42h1v1h-1zM505 42h1v1h-1zM509 42h1v1h-1zM513 42h1v1h-1zM517 42h1v1h-1zM521 42h1v1h-1zM525 42h1v1h-1zM529 42h1v1h-1zM533 42h1v1h-1zM537 42h1v1h-1zM541 42h1v1h-1zM545 42h1v1h-1zM549 42h1v1h-1zM553 42h1v1h-1zM557 42h1v1h-1zM561 42h1v1h-1zM565 42h1v1h-1zM569 42h1v1h-1zM265 43h1v1h-1zM189 44h1v1h-1zM494 44h1v1h-1zM112 45h1v1h-1zM417 45h1v1h-1zM341 46h1v1h-1zM265 47h1v1h-1zM189 48h1v1h-1zM494 48h1v1h-1zM112 49h1v1h-1zM417 49h1v1h-1zM341 50h1v1h-1zM265 51h1v1h-1zM189 52h1v1h-1zM494 52h1v1h-1zM112 53h1v1h-1zM417 53h1v1h-1zM341 54h1v1h-1zM265 55h1v1h-1zM189 56h1v1h-1zM494 56h1v1h-1zM112 57h1v1h-1zM417 57h1v1h-1zM341 58h1v1h-1zM265 59h1v1h-1zM189 60h1v1h-1zM494 60h1v1h-1zM112 61h1v1h-1zM417 61h1v1h-1zM341 62h1v1h-1zM265 63h1v1h-1zM189 64h1v1h-1zM494 64h1v1h-1zM40 65h1v1h-1zM44 65h1v1h-1zM48 65h1v1h-1zM52 65h1v1h-1zM56 65h1v1h-1zM60 65h1v1h-1zM64 65h1v1h-1zM68 65h1v1h-1zM72 65h1v1h-1zM76 65h1v1h-1zM80 65h1v1h-1zM84 65h1v1h-1zM88 65h1v1h-1zM92 65h1v1h-1zM96 65h1v1h-1zM100 65h1v1h-1zM104 65h1v1h-1zM108 65h1v1h-1zM112 65h1v1h-1zM116 65h1v1h-1zM120 65h1v1h-1zM124 65h1v1h-1zM128 65h1v1h-1zM132 65h1v1h-1zM136 65h1v1h-1zM140 65h1v1h-1zM144 65h1v1h-1zM148 65h1v1h-1zM152 65h1v1h-1zM156 65h1v1h-1zM160 65h1v1h-1zM164 65h1v1h-1zM168 65h1v1h-1zM172 65h1v1h-1zM176 65h1v1h-1zM180 65h1v1h-1zM184 65h1v1h-1zM188 65h1v1h-1zM192 65h1v1h-1zM196 65h1v1h-1zM200 65h1v1h-1zM204 65h1v1h-1zM208 65h1v1h-1zM212 65h1v1h-1zM216 65h1v1h-1zM220 65h1v1h-1zM224 65h1v1h-1zM228 65h1v1h-1zM232 65h1v1h-1zM236 65h1v1h-1zM240 65h1v1h-1zM244 65h1v1h-1zM248 65h1v1h-1zM252 65h1v1h-1zM256 65h1v1h-1zM260 65h1v1h-1zM264 65h1v1h-1zM268 65h1v1h-1zM272 65h1v1h-1zM276 65h1v1h-1zM280 65h1v1h-1zM284 65h1v1h-1zM288 65h1v1h-1zM292 65h1v1h-1zM296 65h1v1h-1zM300 65h1v1h-1zM304 65h1v1h-1zM308 65h1v1h-1zM312 65h1v1h-1zM316 65h1v1h-1zM320 65h1v1h-1zM324 65h1v1h-1zM328 65h1v1h-1zM332 65h1v1h-1zM336 65h1v1h-1zM340 65h1v1h-1zM344 65h1v1h-1zM348 65h1v1h-1zM352 65h1v1h-1zM356 65h1v1h-1zM360 65h1v1h-1zM364 65h1v1h-1zM368 65h1v1h-1zM372 65h1v1h-1zM376 65h1v1h-1zM380 65h1v1h-1zM384 65h1v1h-1zM388 65h1v1h-1zM392 65h1v1h-1zM396 65h1v1h-1zM400 65h1v1h-1zM404 65h1v1h-1zM408 65h1v1h-1zM412 65h1v1h-1zM416 65h2v1h-2zM420 65h1v1h-1zM424 65h1v1h-1zM428 65h1v1h-1zM432 65h1v1h-1zM436 65h1v1h-1zM440 65h1v1h-1zM444 65h1v1h-1zM448 65h1v1h-1zM452 65h1v1h-1zM456 65h1v1h-1zM460 65h1v1h-1zM464 65h1v1h-1zM468 65h1v1h-1zM472 65h1v1h-1zM476 65h1v1h-1zM480 65h1v1h-1zM484 65h1v1h-1zM488 65h1v1h-1zM492 65h1v1h-1zM496 65h1v1h-1zM500 65h1v1h-1zM504 65h1v1h-1zM508 65h1v1h-1zM512 65h1v1h-1zM516 65h1v1h-1zM520 65h1v1h-1zM524 65h1v1h-1zM528 65h1v1h-1zM532 65h1v1h-1zM536 65h1v1h-1zM540 65h1v1h-1zM544 65h1v1h-1zM548 65h1v1h-1zM552 65h1v1h-1zM556 65h1v1h-1zM560 65h1v1h-1zM564 65h1v1h-1zM568 65h1v1h-1zM341 66h1v1h-1zM265 67h1v1h-1zM189 68h1v1h-1zM494 68h1v1h-1zM112 69h1v1h-1zM417 69h1v1h-1zM341 70h1v1h-1zM265 71h1v1h-1zM189 72h1v1h-1zM494 72h1v1h-1zM112 73h1v1h-1zM417 73h1v1h-1zM341 74h1v1h-1zM265 75h1v1h-1zM39 76h1v1h-1zM43 76h1v1h-1zM47 76h1v1h-1zM51 76h1v1h-1zM55 76h1v1h-1zM59 76h1v1h-1zM63 76h1v1h-1zM67 76h1v1h-1zM71 76h1v1h-1zM75 76h1v1h-1zM79 76h1v1h-1zM83 76h1v1h-1zM87 76h1v1h-1zM91 76h1v1h-1zM95 76h1v1h-1zM99 76h1v1h-1zM103 76h1v1h-1zM107 76h1v1h-1zM111 76h1v1h-1zM115 76h1v1h-1zM119 76h1v1h-1zM123 76h1v1h-1zM127 76h1v1h-1zM131 76h1v1h-1zM135 76h1v1h-1zM139 76h1v1h-1zM143 76h1v1h-1zM147 76h1v1h-1zM151 76h1v1h-1zM155 76h1v1h-1zM159 76h1v1h-1zM163 76h1v1h-1zM167 76h1v1h-1zM171 76h1v1h-1zM175 76h1v1h-1zM179 76h1v1h-1zM183 76h1v1h-1zM187 76h1v1h-1zM189 76h1v1h-1zM191 76h1v1h-1zM195 76h1v1h-1zM199 76h1v1h-1zM203 76h1v1h-1zM207 76h1v1h-1zM211 76h1v1h-1zM215 76h1v1h-1zM219 76h1v1h-1zM223 76h1v1h-1zM227 76h1v1h-1zM231 76h1v1h-1zM235 76h1v1h-1zM239 76h1v1h-1zM243 76h1v1h-1zM247 76h1v1h-1zM251 76h1v1h-1zM255 76h1v1h-1zM259 76h1v1h-1zM263 76h1v1h-1zM267 76h1v1h-1zM271 76h1v1h-1zM275 76h1v1h-1zM279 76h1v1h-1zM283 76h1v1h-1zM287 76h1v1h-1zM291 76h1v1h-1zM295 76h1v1h-1zM299 76h1v1h-1zM303 76h1v1h-1zM307 76h1v1h-1zM311 76h1v1h-1zM315 76h1v1h-1zM319 76h1v1h-1zM323 76h1v1h-1zM327 76h1v1h-1zM331 76h1v1h-1zM335 76h1v1h-1zM339 76h1v1h-1zM343 76h1v1h-1zM347 76h1v1h-1zM351 76h1v1h-1zM355 76h1v1h-1zM359 76h1v1h-1zM363 76h1v1h-1zM367 76h1v1h-1zM371 76h1v1h-1zM375 76h1v1h-1zM379 76h1v1h-1zM383 76h1v1h-1zM387 76h1v1h-1zM391 76h1v1h-1zM395 76h1v1h-1zM399 76h1v1h-1zM403 76h1v1h-1zM407 76h1v1h-1zM411 76h1v1h-1zM415 76h1v1h-1zM419 76h1v1h-1zM423 76h1v1h-1zM427 76h1v1h-1zM431 76h1v1h-1zM435 76h1v1h-1zM439 76h1v1h-1zM443 76h1v1h-1zM447 76h1v1h-1zM451 76h1v1h-1zM455 76h1v1h-1zM459 76h1v1h-1zM463 76h1v1h-1zM467 76h1v1h-1zM471 76h1v1h-1zM475 76h1v1h-1zM479 76h1v1h-1zM483 76h1v1h-1zM487 76h1v1h-1zM491 76h1v1h-1zM494 76h2v1h-2zM499 76h1v1h-1zM503 76h1v1h-1zM507 76h1v1h-1zM511 76h1v1h-1zM515 76h1v1h-1zM519 76h1v1h-1zM523 76h1v1h-1zM527 76h1v1h-1zM531 76h1v1h-1zM535 76h1v1h-1zM539 76h1v1h-1zM543 76h1v1h-1zM547 76h1v1h-1zM551 76h1v1h-1zM555 76h1v1h-1zM559 76h1v1h-1zM563 76h1v1h-1zM567 76h1v1h-1zM112 77h1v1h-1zM417 77h1v1h-1zM341 78h1v1h-1zM265 79h1v1h-1zM189 80h1v1h-1zM494 80h1v1h-1zM112 81h1v1h-1zM417 81h1v1h-1zM341 82h1v1h-1zM265 83h1v1h-1zM189 84h1v1h-1zM494 84h1v1h-1zM112 85h1v1h-1zM417 85h1v1h-1zM341 86h1v1h-1zM265 87h1v1h-1zM189 88h1v1h-1zM494 88h1v1h-1zM112 89h1v1h-1zM417 89h1v1h-1zM341 90h1v1h-1zM265 91h1v1h-1zM189 92h1v1h-1zM494 92h1v1h-1zM112 93h1v1h-1zM417 93h1v1h-1zM341 94h1v1h-1zM265 95h1v1h-1zM189 96h1v1h-1zM494 96h1v1h-1zM112 97h1v1h-1zM417 97h1v1h-1zM341 98h1v1h-1zM265 99h1v1h-1zM189 100h1v1h-1zM494 100h1v1h-1zM112 101h1v1h-1zM417 101h1v1h-1zM341 102h1v1h-1zM265 103h1v1h-1zM189 104h1v1h-1zM494 104h1v1h-1zM112 105h1v1h-1zM417 105h1v1h-1zM341 106h1v1h-1zM265 107h1v1h-1zM189 108h1v1h-1zM494 108h1v1h-1zM112 109h1v1h-1zM417 109h1v1h-1zM341 110h1v1h-1zM265 111h1v1h-1zM189 112h1v1h-1zM494 112h1v1h-1zM112 113h1v1h-1zM417 113h1v1h-1zM341 114h1v1h-1zM265 115h1v1h-1zM189 116h1v1h-1zM494 116h1v1h-1zM112 117h1v1h-1zM417 117h1v1h-1zM341 118h1v1h-1zM265 119h1v1h-1zM189 120h1v1h-1zM494 120h1v1h-1zM341 133h1v1h-1zM265 134h1v1h-1zM189 135h1v1h-1zM494 135h1v1h-1zM112 136h1v1h-1zM417 136h1v1h-1zM341 137h1v1h-1zM265 138h1v1h-1zM189 139h1v1h-1zM494 139h1v1h-1zM112 140h1v1h-1zM417 140h1v1h-1zM341 141h1v1h-1zM265 142h1v1h-1zM189 143h1v1h-1zM494 143h1v1h-1zM112 144h1v1h-1zM417 144h1v1h-1zM341 145h1v1h-1zM265 146h1v1h-1zM189 147h1v1h-1zM494 147h1v1h-1zM112 148h1v1h-1zM417 148h1v1h-1zM341 149h1v1h-1zM265 150h1v1h-1zM189 151h1v1h-1zM494 151h1v1h-1zM112 152h1v1h-1zM417 152h1v1h-1zM341 153h1v1h-1zM39 154h1v1h-1zM43 154h1v1h-1zM47 154h1v1h-1zM51 154h1v1h-1zM55 154h1v1h-1zM59 154h1v1h-1zM63 154h1v1h-1zM67 154h1v1h-1zM71 154h1v1h-1zM75 154h1v1h-1zM79 154h1v1h-1zM83 154h1v1h-1zM87 154h1v1h-1zM91 154h1v1h-1zM95 154h1v1h-1zM99 154h1v1h-1zM103 154h1v1h-1zM107 154h1v1h-1zM111 154h1v1h-1zM115 154h1v1h-1zM119 154h1v1h-1zM123 154h1v1h-1zM127 154h1v1h-1zM131 154h1v1h-1zM135 154h1v1h-1zM139 154h1v1h-1zM143 154h1v1h-1zM147 154h1v1h-1zM151 154h1v1h-1zM155 154h1v1h-1zM159 154h1v1h-1zM163 154h1v1h-1zM167 154h1v1h-1zM171 154h1v1h-1zM175 154h1v1h-1zM179 154h1v1h-1zM183 154h1v1h-1zM187 154h1v1h-1zM191 154h1v1h-1zM195 154h1v1h-1zM199 154h1v1h-1zM203 154h1v1h-1zM207 154h1v1h-1zM211 154h1v1h-1zM215 154h1v1h-1zM219 154h1v1h-1zM223 154h1v1h-1zM227 154h1v1h-1zM231 154h1v1h-1zM235 154h1v1h-1zM239 154h1v1h-1zM243 154h1v1h-1zM247 154h1v1h-1zM251 154h1v1h-1zM255 154h1v1h-1zM259 154h1v1h-1zM263 154h1v1h-1zM265 154h1v1h-1zM267 154h1v1h-1zM271 154h1v1h-1zM275 154h1v1h-1zM279 154h1v1h-1zM283 154h1v1h-1zM287 154h1v1h-1zM291 154h1v1h-1zM295 154h1v1h-1zM299 154h1v1h-1zM303 154h1v1h-1zM307 154h1v1h-1zM311 154h1v1h-1zM315 154h1v1h-1zM319 154h1v1h-1zM323 154h1v1h-1zM327 154h1v1h-1zM331 154h1v1h-1zM335 154h1v1h-1zM339 154h1v1h-1zM343 154h1v1h-1zM347 154h1v1h-1zM351 154h1v1h-1zM355 154h1v1h-1zM359 154h1v1h-1zM363 154h1v1h-1zM367 154h1v1h-1zM371 154h1v1h-1zM375 154h1v1h-1zM379 154h1v1h-1zM383 154h1v1h-1zM387 154h1v1h-1zM391 154h1v1h-1zM395 154h1v1h-1zM399 154h1v1h-1zM403 154h1v1h-1zM407 154h1v1h-1zM411 154h1v1h-1zM415 154h1v1h-1zM419 154h1v1h-1zM423 154h1v1h-1zM427 154h1v1h-1zM431 154h1v1h-1zM435 154h1v1h-1zM439 154h1v1h-1zM443 154h1v1h-1zM447 154h1v1h-1zM451 154h1v1h-1zM455 154h1v1h-1zM459 154h1v1h-1zM463 154h1v1h-1zM467 154h1v1h-1zM471 154h1v1h-1zM475 154h1v1h-1zM479 154h1v1h-1zM483 154h1v1h-1zM487 154h1v1h-1zM491 154h1v1h-1zM495 154h1v1h-1zM499 154h1v1h-1zM503 154h1v1h-1zM507 154h1v1h-1zM511 154h1v1h-1zM515 154h1v1h-1zM519 154h1v1h-1zM523 154h1v1h-1zM527 154h1v1h-1zM531 154h1v1h-1zM535 154h1v1h-1zM539 154h1v1h-1zM543 154h1v1h-1zM547 154h1v1h-1zM551 154h1v1h-1zM555 154h1v1h-1zM559 154h1v1h-1zM563 154h1v1h-1zM567 154h1v1h-1zM189 155h1v1h-1zM494 155h1v1h-1zM112 156h1v1h-1zM417 156h1v1h-1zM341 157h1v1h-1zM265 158h1v1h-1zM189 159h1v1h-1zM494 159h1v1h-1zM112 160h1v1h-1zM417 160h1v1h-1zM341 161h1v1h-1zM265 162h1v1h-1zM189 163h1v1h-1zM494 163h1v1h-1zM112 164h1v1h-1zM417 164h1v1h-1zM341 165h1v1h-1zM265 166h1v1h-1zM189 167h1v1h-1zM494 167h1v1h-1zM112 168h1v1h-1zM417 168h1v1h-1zM341 169h1v1h-1zM265 170h1v1h-1zM189 171h1v1h-1zM494 171h1v1h-1zM112 172h1v1h-1zM417 172h1v1h-1zM341 173h1v1h-1zM265 174h1v1h-1zM189 175h1v1h-1zM494 175h1v1h-1zM112 176h1v1h-1zM417 176h1v1h-1zM38 177h1v1h-1zM42 177h1v1h-1zM46 177h1v1h-1zM50 177h1v1h-1zM54 177h1v1h-1zM58 177h1v1h-1zM62 177h1v1h-1zM66 177h1v1h-1zM70 177h1v1h-1zM74 177h1v1h-1zM78 177h1v1h-1zM82 177h1v1h-1zM86 177h1v1h-1zM90 177h1v1h-1zM94 177h1v1h-1zM98 177h1v1h-1zM102 177h1v1h-1zM106 177h1v1h-1zM110 177h1v1h-1zM114 177h1v1h-1zM118 177h1v1h-1zM122 177h1v1h-1zM126 177h1v1h-1zM130 177h1v1h-1zM134 177h1v1h-1zM138 177h1v1h-1zM142 177h1v1h-1zM146 177h1v1h-1zM150 177h1v1h-1zM154 177h1v1h-1zM158 177h1v1h-1zM162 177h1v1h-1zM166 177h1v1h-1zM170 177h1v1h-1zM174 177h1v1h-1zM178 177h1v1h-1zM182 177h1v1h-1zM186 177h1v1h-1zM190 177h1v1h-1zM194 177h1v1h-1zM198 177h1v1h-1zM202 177h1v1h-1zM206 177h1v1h-1zM210 177h1v1h-1zM214 177h1v1h-1zM218 177h1v1h-1zM222 177h1v1h-1zM226 177h1v1h-1zM230 177h1v1h-1zM234 177h1v1h-1zM238 177h1v1h-1zM242 177h1v1h-1zM246 177h1v1h-1zM250 177h1v1h-1zM254 177h1v1h-1zM258 177h1v1h-1zM262 177h1v1h-1zM266 177h1v1h-1zM270 177h1v1h-1zM274 177h1v1h-1zM278 177h1v1h-1zM282 177h1v1h-1zM286 177h1v1h-1zM290 177h1v1h-1zM294 177h1v1h-1zM298 177h1v1h-1zM302 177h1v1h-1zM306 177h1v1h-1zM310 177h1v1h-1zM314 177h1v1h-1zM318 177h1v1h-1zM322 177h1v1h-1zM326 177h1v1h-1zM330 177h1v1h-1zM334 177h1v1h-1zM338 177h1v1h-1zM341 177h2v1h-2zM346 177h1v1h-1zM350 177h1v1h-1zM354 177h1v1h-1zM358 177h1v1h-1zM362 177h1v1h-1zM366 177h1v1h-1zM370 177h1v1h-1zM374 177h1v1h-1zM378 177h1v1h-1zM382 177h1v1h-1zM386 177h1v1h-1zM390 177h1v1h-1zM394 177h1v1h-1zM398 177h1v1h-1zM402 177h1v1h-1zM406 177h1v1h-1zM410 177h1v1h-1zM414 177h1v1h-1zM418 177h1v1h-1zM422 177h1v1h-1zM426 177h1v1h-1zM430 177h1v1h-1zM434 177h1v1h-1zM438 177h1v1h-1zM442 177h1v1h-1zM446 177h1v1h-1zM450 177h1v1h-1zM454 177h1v1h-1zM458 177h1v1h-1zM462 177h1v1h-1zM466 177h1v1h-1zM470 177h1v1h-1zM474 177h1v1h-1zM478 177h1v1h-1zM482 177h1v1h-1zM486 177h1v1h-1zM490 177h1v1h-1zM494 177h1v1h-1zM498 177h1v1h-1zM502 177h1v1h-1zM506 177h1v1h-1zM510 177h1v1h-1zM514 177h1v1h-1zM518 177h1v1h-1zM522 177h1v1h-1zM526 177h1v1h-1zM530 177h1v1h-1zM534 177h1v1h-1zM538 177h1v1h-1zM542 177h1v1h-1zM546 177h1v1h-1zM550 177h1v1h-1zM554 177h1v1h-1zM558 177h1v1h-1zM562 177h1v1h-1zM566 177h1v1h-1zM265 178h1v1h-1zM189 179h1v1h-1zM494 179h1v1h-1zM112 180h1v1h-1zM417 180h1v1h-1zM341 181h1v1h-1zM265 182h1v1h-1zM189 183h1v1h-1zM494 183h1v1h-1zM112 184h1v1h-1zM417 184h1v1h-1zM341 185h1v1h-1zM265 186h1v1h-1zM189 187h1v1h-1zM494 187h1v1h-1zM37 188h1v1h-1zM41 188h1v1h-1zM45 188h1v1h-1zM49 188h1v1h-1zM53 188h1v1h-1zM57 188h1v1h-1zM61 188h1v1h-1zM65 188h1v1h-1zM69 188h1v1h-1zM73 188h1v1h-1zM77 188h1v1h-1zM81 188h1v1h-1zM85 188h1v1h-1zM89 188h1v1h-1zM93 188h1v1h-1zM97 188h1v1h-1zM101 188h1v1h-1zM105 188h1v1h-1zM109 188h1v1h-1zM112 188h2v1h-2zM117 188h1v1h-1zM121 188h1v1h-1zM125 188h1v1h-1zM129 188h1v1h-1zM133 188h1v1h-1zM137 188h1v1h-1zM141 188h1v1h-1zM145 188h1v1h-1zM149 188h1v1h-1zM153 188h1v1h-1zM157 188h1v1h-1zM161 188h1v1h-1zM165 188h1v1h-1zM169 188h1v1h-1zM173 188h1v1h-1zM177 188h1v1h-1zM181 188h1v1h-1zM185 188h1v1h-1zM189 188h1v1h-1zM193 188h1v1h-1zM197 188h1v1h-1zM201 188h1v1h-1zM205 188h1v1h-1zM209 188h1v1h-1zM213 188h1v1h-1zM217 188h1v1h-1zM221 188h1v1h-1zM225 188h1v1h-1zM229 188h1v1h-1zM233 188h1v1h-1zM237 188h1v1h-1zM241 188h1v1h-1zM245 188h1v1h-1zM249 188h1v1h-1zM253 188h1v1h-1zM257 188h1v1h-1zM261 188h1v1h-1zM265 188h1v1h-1zM269 188h1v1h-1zM273 188h1v1h-1zM277 188h1v1h-1zM281 188h1v1h-1zM285 188h1v1h-1zM289 188h1v1h-1zM293 188h1v1h-1zM297 188h1v1h-1zM301 188h1v1h-1zM305 188h1v1h-1zM309 188h1v1h-1zM313 188h1v1h-1zM317 188h1v1h-1zM321 188h1v1h-1zM325 188h1v1h-1zM329 188h1v1h-1zM333 188h1v1h-1zM337 188h1v1h-1zM341 188h1v1h-1zM345 188h1v1h-1zM349 188h1v1h-1zM353 188h1v1h-1zM357 188h1v1h-1zM361 188h1v1h-1zM365 188h1v1h-1zM369 188h1v1h-1zM373 188h1v1h-1zM377 188h1v1h-1zM381 188h1v1h-1zM385 188h1v1h-1zM389 188h1v1h-1zM393 188h1v1h-1zM397 188h1v1h-1zM401 188h1v1h-1zM405 188h1v1h-1zM409 188h1v1h-1zM413 188h1v1h-1zM417 188h1v1h-1zM421 188h1v1h-1zM425 188h1v1h-1zM429 188h1v1h-1zM433 188h1v1h-1zM437 188h1v1h-1zM441 188h1v1h-1zM445 188h1v1h-1zM449 188h1v1h-1zM453 188h1v1h-1zM457 188h1v1h-1zM461 188h1v1h-1zM465 188h1v1h-1zM469 188h1v1h-1zM473 188h1v1h-1zM477 188h1v1h-1zM481 188h1v1h-1zM485 188h1v1h-1zM489 188h1v1h-1zM493 188h1v1h-1zM497 188h1v1h-1zM501 188h1v1h-1zM505 188h1v1h-1zM509 188h1v1h-1zM513 188h1v1h-1zM517 188h1v1h-1zM521 188h1v1h-1zM525 188h1v1h-1zM529 188h1v1h-1zM533 188h1v1h-1zM537 188h1v1h-1zM541 188h1v1h-1zM545 188h1v1h-1zM549 188h1v1h-1zM553 188h1v1h-1zM557 188h1v1h-1zM561 188h1v1h-1zM565 188h1v1h-1zM569 188h1v1h-1zM341 189h1v1h-1zM265 190h1v1h-1zM189 191h1v1h-1zM494 191h1v1h-1zM112 192h1v1h-1zM417 192h1v1h-1zM341 193h1v1h-1zM265 194h1v1h-1zM189 195h1v1h-1zM494 195h1v1h-1zM112 196h1v1h-1zM417 196h1v1h-1zM341 197h1v1h-1zM265 198h1v1h-1zM189 199h1v1h-1zM494 199h1v1h-1zM112 200h1v1h-1zM417 200h1v1h-1zM341 201h1v1h-1zM265 202h1v1h-1zM189 203h1v1h-1zM494 203h1v1h-1zM112 204h1v1h-1zM417 204h1v1h-1zM341 205h1v1h-1zM265 206h1v1h-1zM189 207h1v1h-1zM494 207h1v1h-1zM112 208h1v1h-1zM417 208h1v1h-1zM341 209h1v1h-1zM265 210h1v1h-1zM189 211h1v1h-1zM494 211h1v1h-1zM112 212h1v1h-1zM417 212h1v1h-1zM341 213h1v1h-1zM265 214h1v1h-1zM189 215h1v1h-1zM494 215h1v1h-1zM112 216h1v1h-1zM417 216h1v1h-1zM341 217h1v1h-1zM265 218h1v1h-1zM189 219h1v1h-1zM494 219h1v1h-1zM112 220h1v1h-1zM417 220h1v1h-1zM341 221h1v1h-1zM265 222h1v1h-1zM189 223h1v1h-1zM494 223h1v1h-1zM112 224h1v1h-1zM417 224h1v1h-1zM341 225h1v1h-1zM265 226h1v1h-1zM189 227h1v1h-1zM494 227h1v1h-1zM112 228h1v1h-1zM417 228h1v1h-1zM341 229h1v1h-1zM265 230h1v1h-1zM189 231h1v1h-1zM494 231h1v1h-1zM112 232h1v1h-1zM417 232h1v1h-1zM341 233h1v1h-1zM189 245h1v1h-1zM494 245h1v1h-1zM112 246h1v1h-1zM417 246h1v1h-1zM341 247h1v1h-1zM265 248h1v1h-1zM189 249h1v1h-1zM494 249h1v1h-1zM112 250h1v1h-1zM417 250h1v1h-1zM341 251h1v1h-1zM265 252h1v1h-1zM189 253h1v1h-1zM494 253h1v1h-1zM112 254h1v1h-1zM417 254h1v1h-1zM341 255h1v1h-1zM265 256h1v1h-1zM189 257h1v1h-1zM494 257h1v1h-1zM112 258h1v1h-1zM417 258h1v1h-1zM341 259h1v1h-1zM265 260h1v1h-1zM189 261h1v1h-1zM494 261h1v1h-1zM112 262h1v1h-1zM417 262h1v1h-1zM341 263h1v1h-1zM265 264h1v1h-1zM189 265h1v1h-1zM494 265h1v1h-1zM37 266h1v1h-1zM41 266h1v1h-1zM45 266h1v1h-1zM49 266h1v1h-1zM53 266h1v1h-1zM57 266h1v1h-1zM61 266h1v1h-1zM65 266h1v1h-1zM69 266h1v1h-1zM73 266h1v1h-1zM77 266h1v1h-1zM81 266h1v1h-1zM85 266h1v1h-1zM89 266h1v1h-1zM93 266h1v1h-1zM97 266h1v1h-1zM101 266h1v1h-1zM105 266h1v1h-1zM109 266h1v1h-1zM112 266h2v1h-2zM117 266h1v1h-1zM121 266h1v1h-1zM125 266h1v1h-1zM129 266h1v1h-1zM133 266h1v1h-1zM137 266h1v1h-1zM141 266h1v1h-1zM145 266h1v1h-1zM149 266h1v1h-1zM153 266h1v1h-1zM157 266h1v1h-1zM161 266h1v1h-1zM165 266h1v1h-1zM169 266h1v1h-1zM173 266h1v1h-1zM177 266h1v1h-1zM181 266h1v1h-1zM185 266h1v1h-1zM189 266h1v1h-1zM193 266h1v1h-1zM197 266h1v1h-1zM201 266h1v1h-1zM205 266h1v1h-1zM209 266h1v1h-1zM213 266h1v1h-1zM217 266h1v1h-1zM221 266h1v1h-1zM225 266h1v1h-1zM229 266h1v1h-1zM233 266h1v1h-1zM237 266h1v1h-1zM241 266h1v1h-1zM245 266h1v1h-1zM249 266h1v1h-1zM253 266h1v1h-1zM257 266h1v1h-1zM261 266h1v1h-1zM265 266h1v1h-1zM269 266h1v1h-1zM273 266h1v1h-1zM277 266h1v1h-1zM281 266h1v1h-1zM285 266h1v1h-1zM289 266h1v1h-1zM293 266h1v1h-1zM297 266h1v1h-1zM301 266h1v1h-1zM305 266h1v1h-1zM309 266h1v1h-1zM313 266h1v1h-1zM317 266h1v1h-1zM321 266h1v1h-1zM325 266h1v1h-1zM329 266h1v1h-1zM333 266h1v1h-1zM337 266h1v1h-1zM341 266h1v1h-1zM345 266h1v1h-1zM349 266h1v1h-1zM353 266h1v1h-1zM357 266h1v1h-1zM361 266h1v1h-1zM365 266h1v1h-1zM369 266h1v1h-1zM373 266h1v1h-1zM377 266h1v1h-1zM381 266h1v1h-1zM385 266h1v1h-1zM389 266h1v1h-1zM393 266h1v1h-1zM397 266h1v1h-1zM401 266h1v1h-1zM405 266h1v1h-1zM409 266h1v1h-1zM413 266h1v1h-1zM417 266h1v1h-1zM421 266h1v1h-1zM425 266h1v1h-1zM429 266h1v1h-1zM433 266h1v1h-1zM437 266h1v1h-1zM441 266h1v1h-1zM445 266h1v1h-1zM449 266h1v1h-1zM453 266h1v1h-1zM457 266h1v1h-1zM461 266h1v1h-1zM465 266h1v1h-1zM469 266h1v1h-1zM473 266h1v1h-1zM477 266h1v1h-1zM481 266h1v1h-1zM485 266h1v1h-1zM489 266h1v1h-1zM493 266h1v1h-1zM497 266h1v1h-1zM501 266h1v1h-1zM505 266h1v1h-1zM509 266h1v1h-1zM513 266h1v1h-1zM517 266h1v1h-1zM521 266h1v1h-1zM525 266h1v1h-1zM529 266h1v1h-1zM533 266h1v1h-1zM537 266h1v1h-1zM541 266h1v1h-1zM545 266h1v1h-1zM549 266h1v1h-1zM553 266h1v1h-1zM557 266h1v1h-1zM561 266h1v1h-1zM565 266h1v1h-1zM569 266h1v1h-1zM341 267h1v1h-1zM265 268h1v1h-1zM189 269h1v1h-1zM494 269h1v1h-1zM112 270h1v1h-1zM417 270h1v1h-1zM341 271h1v1h-1zM265 272h1v1h-1zM189 273h1v1h-1zM494 273h1v1h-1zM112 274h1v1h-1zM417 274h1v1h-1zM341 275h1v1h-1zM265 276h1v1h-1zM189 277h1v1h-1zM494 277h1v1h-1zM112 278h1v1h-1zM417 278h1v1h-1zM341 279h1v1h-1zM265 280h1v1h-1zM189 281h1v1h-1zM494 281h1v1h-1zM112 282h1v1h-1zM417 282h1v1h-1zM341 283h1v1h-1zM265 284h1v1h-1zM189 285h1v1h-1zM494 285h1v1h-1zM112 286h1v1h-1zM417 286h1v1h-1zM341 287h1v1h-1zM265 288h1v1h-1zM40 289h1v1h-1zM44 289h1v1h-1zM48 289h1v1h-1zM52 289h1v1h-1zM56 289h1v1h-1zM60 289h1v1h-1zM64 289h1v1h-1zM68 289h1v1h-1zM72 289h1v1h-1zM76 289h1v1h-1zM80 289h1v1h-1zM84 289h1v1h-1zM88 289h1v1h-1zM92 289h1v1h-1zM96 289h1v1h-1zM100 289h1v1h-1zM104 289h1v1h-1zM108 289h1v1h-1zM112 289h1v1h-1zM116 289h1v1h-1zM120 289h1v1h-1zM124 289h1v1h-1zM128 289h1v1h-1zM132 289h1v1h-1zM136 289h1v1h-1zM140 289h1v1h-1zM144 289h1v1h-1zM148 289h1v1h-1zM152 289h1v1h-1zM156 289h1v1h-1zM160 289h1v1h-1zM164 289h1v1h-1zM168 289h1v1h-1zM172 289h1v1h-1zM176 289h1v1h-1zM180 289h1v1h-1zM184 289h1v1h-1zM188 289h2v1h-2zM192 289h1v1h-1zM196 289h1v1h-1zM200 289h1v1h-1zM204 289h1v1h-1zM208 289h1v1h-1zM212 289h1v1h-1zM216 289h1v1h-1zM220 289h1v1h-1zM224 289h1v1h-1zM228 289h1v1h-1zM232 289h1v1h-1zM236 289h1v1h-1zM240 289h1v1h-1zM244 289h1v1h-1zM248 289h1v1h-1zM252 289h1v1h-1zM256 289h1v1h-1zM260 289h1v1h-1zM264 289h1v1h-1zM268 289h1v1h-1zM272 289h1v1h-1zM276 289h1v1h-1zM280 289h1v1h-1zM284 289h1v1h-1zM288 289h1v1h-1zM292 289h1v1h-1zM296 289h1v1h-1zM300 289h1v1h-1zM304 289h1v1h-1zM308 289h1v1h-1zM312 289h1v1h-1zM316 289h1v1h-1zM320 289h1v1h-1zM324 289h1v1h-1zM328 289h1v1h-1zM332 289h1v1h-1zM336 289h1v1h-1zM340 289h1v1h-1zM344 289h1v1h-1zM348 289h1v1h-1zM352 289h1v1h-1zM356 289h1v1h-1zM360 289h1v1h-1zM364 289h1v1h-1zM368 289h1v1h-1zM372 289h1v1h-1zM376 289h1v1h-1zM380 289h1v1h-1zM384 289h1v1h-1zM388 289h1v1h-1zM392 289h1v1h-1zM396 289h1v1h-1zM400 289h1v1h-1zM404 289h1v1h-1zM408 289h1v1h-1zM412 289h1v1h-1zM416 289h1v1h-1zM420 289h1v1h-1zM424 289h1v1h-1zM428 289h1v1h-1zM432 289h1v1h-1zM436 289h1v1h-1zM440 289h1v1h-1zM444 289h1v1h-1zM448 289h1v1h-1zM452 289h1v1h-1zM456 289h1v1h-1zM460 289h1v1h-1zM464 289h1v1h-1zM468 289h1v1h-1zM472 289h1v1h-1zM476 289h1v1h-1zM480 289h1v1h-1zM484 289h1v1h-1zM488 289h1v1h-1zM492 289h1v1h-1zM494 289h1v1h-1zM496 289h1v1h-1zM500 289h1v1h-1zM504 289h1v1h-1zM508 289h1v1h-1zM512 289h1v1h-1zM516 289h1v1h-1zM520 289h1v1h-1zM524 289h1v1h-1zM528 289h1v1h-1zM532 289h1v1h-1zM536 289h1v1h-1zM540 289h1v1h-1zM544 289h1v1h-1zM548 289h1v1h-1zM552 289h1v1h-1zM556 289h1v1h-1zM560 289h1v1h-1zM564 289h1v1h-1zM568 289h1v1h-1zM112 290h1v1h-1zM417 290h1v1h-1zM341 291h1v1h-1zM265 292h1v1h-1zM189 293h1v1h-1zM494 293h1v1h-1zM112 294h1v1h-1zM417 294h1v1h-1zM341 295h1v1h-1zM265 296h1v1h-1zM189 297h1v1h-1zM494 297h1v1h-1zM112 298h1v1h-1zM417 298h1v1h-1zM341 299h1v1h-1zM39 300h1v1h-1zM43 300h1v1h-1zM47 300h1v1h-1zM51 300h1v1h-1zM55 300h1v1h-1zM59 300h1v1h-1zM63 300h1v1h-1zM67 300h1v1h-1zM71 300h1v1h-1zM75 300h1v1h-1zM79 300h1v1h-1zM83 300h1v1h-1zM87 300h1v1h-1zM91 300h1v1h-1zM95 300h1v1h-1zM99 300h1v1h-1zM103 300h1v1h-1zM107 300h1v1h-1zM111 300h1v1h-1zM115 300h1v1h-1zM119 300h1v1h-1zM123 300h1v1h-1zM127 300h1v1h-1zM131 300h1v1h-1zM135 300h1v1h-1zM139 300h1v1h-1zM143 300h1v1h-1zM147 300h1v1h-1zM151 300h1v1h-1zM155 300h1v1h-1zM159 300h1v1h-1zM163 300h1v1h-1zM167 300h1v1h-1zM171 300h1v1h-1zM175 300h1v1h-1zM179 300h1v1h-1zM183 300h1v1h-1zM187 300h1v1h-1zM191 300h1v1h-1zM195 300h1v1h-1zM199 300h1v1h-1zM203 300h1v1h-1zM207 300h1v1h-1zM211 300h1v1h-1zM215 300h1v1h-1zM219 300h1v1h-1zM223 300h1v1h-1zM227 300h1v1h-1zM231 300h1v1h-1zM235 300h1v1h-1zM239 300h1v1h-1zM243 300h1v1h-1zM247 300h1v1h-1zM251 300h1v1h-1zM255 300h1v1h-1zM259 300h1v1h-1zM263 300h1v1h-1zM265 300h1v1h-1zM267 300h1v1h-1zM271 300h1v1h-1zM275 300h1v1h-1zM279 300h1v1h-1zM283 300h1v1h-1zM287 300h1v1h-1zM291 300h1v1h-1zM295 300h1v1h-1zM299 300h1v1h-1zM303 300h1v1h-1zM307 300h1v1h-1zM311 300h1v1h-1zM315 300h1v1h-1zM319 300h1v1h-1zM323 300h1v1h-1zM327 300h1v1h-1zM331 300h1v1h-1zM335 300h1v1h-1zM339 300h1v1h-1zM343 300h1v1h-1zM347 300h1v1h-1zM351 300h1v1h-1zM355 300h1v1h-1zM359 300h1v1h-1zM363 300h1v1h-1zM367 300h1v1h-1zM371 300h1v1h-1zM375 300h1v1h-1zM379 300h1v1h-1zM383 300h1v1h-1zM387 300h1v1h-1zM391 300h1v1h-1zM395 300h1v1h-1zM399 300h1v1h-1zM403 300h1v1h-1zM407 300h1v1h-1zM411 300h1v1h-1zM415 300h1v1h-1zM419 300h1v1h-1zM423 300h1v1h-1zM427 300h1v1h-1zM431 300h1v1h-1zM435 300h1v1h-1zM439 300h1v1h-1zM443 300h1v1h-1zM447 300h1v1h-1zM451 300h1v1h-1zM455 300h1v1h-1zM459 300h1v1h-1zM463 300h1v1h-1zM467 300h1v1h-1zM471 300h1v1h-1zM475 300h1v1h-1zM479 300h1v1h-1zM483 300h1v1h-1zM487 300h1v1h-1zM491 300h1v1h-1zM495 300h1v1h-1zM499 300h1v1h-1zM503 300h1v1h-1zM507 300h1v1h-1zM511 300h1v1h-1zM515 300h1v1h-1zM519 300h1v1h-1zM523 300h1v1h-1zM527 300h1v1h-1zM531 300h1v1h-1zM535 300h1v1h-1zM539 300h1v1h-1zM543 300h1v1h-1zM547 300h1v1h-1zM551 300h1v1h-1zM555 300h1v1h-1zM559 300h1v1h-1zM563 300h1v1h-1zM567 300h1v1h-1zM189 301h1v1h-1zM494 301h1v1h-1zM112 302h1v1h-1zM417 302h1v1h-1zM341 303h1v1h-1zM265 304h1v1h-1zM189 305h1v1h-1zM494 305h1v1h-1zM112 306h1v1h-1zM417 306h1v1h-1zM341 307h1v1h-1zM265 308h1v1h-1zM189 309h1v1h-1zM494 309h1v1h-1zM112 310h1v1h-1zM417 310h1v1h-1zM341 311h1v1h-1zM265 312h1v1h-1zM189 313h1v1h-1zM494 313h1v1h-1zM112 314h1v1h-1zM417 314h1v1h-1zM341 315h1v1h-1zM265 316h1v1h-1zM189 317h1v1h-1zM494 317h1v1h-1zM112 318h1v1h-1zM417 318h1v1h-1zM341 319h1v1h-1zM265 320h1v1h-1zM189 321h1v1h-1zM494 321h1v1h-1zM112 322h1v1h-1zM417 322h1v1h-1zM341 323h1v1h-1zM265 324h1v1h-1zM189 325h1v1h-1zM494 325h1v1h-1zM112 326h1v1h-1zM417 326h1v1h-1zM341 327h1v1h-1zM265 328h1v1h-1zM189 329h1v1h-1zM494 329h1v1h-1zM112 330h1v1h-1zM417 330h1v1h-1zM341 331h1v1h-1zM265 332h1v1h-1zM189 333h1v1h-1zM494 333h1v1h-1zM112 334h1v1h-1zM417 334h1v1h-1zM341 335h1v1h-1zM265 336h1v1h-1zM189 337h1v1h-1zM494 337h1v1h-1zM112 338h1v1h-1zM417 338h1v1h-1zM341 339h1v1h-1zM265 340h1v1h-1zM189 341h1v1h-1zM494 341h1v1h-1zM112 342h1v1h-1zM417 342h1v1h-1zM341 343h1v1h-1zM265 344h1v1h-1zM189 345h1v1h-1zM494 345h1v1h-1zM341 357h1v1h-1zM265 358h1v1h-1zM189 359h1v1h-1zM494 359h1v1h-1zM112 360h1v1h-1zM417 360h1v1h-1zM341 361h1v1h-1zM265 362h1v1h-1zM189 363h1v1h-1zM494 363h1v1h-1zM112 364h1v1h-1zM417 364h1v1h-1zM341 365h1v1h-1zM265 366h1v1h-1zM189 367h1v1h-1zM494 367h1v1h-1zM112 368h1v1h-1zM417 368h1v1h-1zM341 369h1v1h-1zM265 370h1v1h-1zM189 371h1v1h-1zM494 371h1v1h-1zM112 372h1v1h-1zM417 372h1v1h-1zM341 373h1v1h-1zM265 374h1v1h-1zM189 375h1v1h-1zM494 375h1v1h-1zM112 376h1v1h-1zM417 376h1v1h-1zM341 377h1v1h-1zM265 378h1v1h-1zM39 379h1v1h-1zM43 379h1v1h-1zM47 379h1v1h-1zM51 379h1v1h-1zM55 379h1v1h-1zM59 379h1v1h-1zM63 379h1v1h-1zM67 379h1v1h-1zM71 379h1v1h-1zM75 379h1v1h-1zM79 379h1v1h-1zM83 379h1v1h-1zM87 379h1v1h-1zM91 379h1v1h-1zM95 379h1v1h-1zM99 379h1v1h-1zM103 379h1v1h-1zM107 379h1v1h-1zM111 379h1v1h-1zM115 379h1v1h-1zM119 379h1v1h-1zM123 379h1v1h-1zM127 379h1v1h-1zM131 379h1v1h-1zM135 379h1v1h-1zM139 379h1v1h-1zM143 379h1v1h-1zM147 379h1v1h-1zM151 379h1v1h-1zM155 379h1v1h-1zM159 379h1v1h-1zM163 379h1v1h-1zM167 379h1v1h-1zM171 379h1v1h-1zM175 379h1v1h-1zM179 379h1v1h-1zM183 379h1v1h-1zM187 379h1v1h-1zM189 379h1v1h-1zM191 379h1v1h-1zM195 379h1v1h-1zM199 379h1v1h-1zM203 379h1v1h-1zM207 379h1v1h-1zM211 379h1v1h-1zM215 379h1v1h-1zM219 379h1v1h-1zM223 379h1v1h-1zM227 379h1v1h-1zM231 379h1v1h-1zM235 379h1v1h-1zM239 379h1v1h-1zM243 379h1v1h-1zM247 379h1v1h-1zM251 379h1v1h-1zM255 379h1v1h-1zM259 379h1v1h-1zM263 379h1v1h-1zM267 379h1v1h-1zM271 379h1v1h-1zM275 379h1v1h-1zM279 379h1v1h-1zM283 379h1v1h-1zM287 379h1v1h-1zM291 379h1v1h-1zM295 379h1v1h-1zM299 379h1v1h-1zM303 379h1v1h-1zM307 379h1v1h-1zM311 379h1v1h-1zM315 379h1v1h-1zM319 379h1v1h-1zM323 379h1v1h-1zM327 379h1v1h-1zM331 379h1v1h-1zM335 379h1v1h-1zM339 379h1v1h-1zM343 379h1v1h-1zM347 379h1v1h-1zM351 379h1v1h-1zM355 379h1v1h-1zM359 379h1v1h-1zM363 379h1v1h-1zM367 379h1v1h-1zM371 379h1v1h-1zM375 379h1v1h-1zM379 379h1v1h-1zM383 379h1v1h-1zM387 379h1v1h-1zM391 379h1v1h-1zM395 379h1v1h-1zM399 379h1v1h-1zM403 379h1v1h-1zM407 379h1v1h-1zM411 379h1v1h-1zM415 379h1v1h-1zM419 379h1v1h-1zM423 379h1v1h-1zM427 379h1v1h-1zM431 379h1v1h-1zM435 379h1v1h-1zM439 379h1v1h-1zM443 379h1v1h-1zM447 379h1v1h-1zM451 379h1v1h-1zM455 379h1v1h-1zM459 379h1v1h-1zM463 379h1v1h-1zM467 379h1v1h-1zM471 379h1v1h-1zM475 379h1v1h-1zM479 379h1v1h-1zM483 379h1v1h-1zM487 379h1v1h-1zM491 379h1v1h-1zM494 379h2v1h-2zM499 379h1v1h-1zM503 379h1v1h-1zM507 379h1v1h-1zM511 379h1v1h-1zM515 379h1v1h-1zM519 379h1v1h-1zM523 379h1v1h-1zM527 379h1v1h-1zM531 379h1v1h-1zM535 379h1v1h-1zM539 379h1v1h-1zM543 379h1v1h-1zM547 379h1v1h-1zM551 379h1v1h-1zM555 379h1v1h-1zM559 379h1v1h-1zM563 379h1v1h-1zM567 379h1v1h-1zM112 380h1v1h-1zM417 380h1v1h-1zM341 381h1v1h-1zM265 382h1v1h-1zM189 383h1v1h-1zM494 383h1v1h-1zM112 384h1v1h-1zM417 384h1v1h-1zM341 385h1v1h-1zM265 386h1v1h-1zM189 387h1v1h-1zM494 387h1v1h-1zM112 388h1v1h-1zM417 388h1v1h-1zM341 389h1v1h-1zM265 390h1v1h-1zM189 391h1v1h-1zM494 391h1v1h-1zM112 392h1v1h-1zM417 392h1v1h-1zM341 393h1v1h-1zM265 394h1v1h-1zM189 395h1v1h-1zM494 395h1v1h-1zM112 396h1v1h-1zM417 396h1v1h-1zM341 397h1v1h-1zM265 398h1v1h-1zM189 399h1v1h-1zM494 399h1v1h-1zM112 400h1v1h-1zM417 400h1v1h-1zM38 401h1v1h-1zM42 401h1v1h-1zM46 401h1v1h-1zM50 401h1v1h-1zM54 401h1v1h-1zM58 401h1v1h-1zM62 401h1v1h-1zM66 401h1v1h-1zM70 401h1v1h-1zM74 401h1v1h-1zM78 401h1v1h-1zM82 401h1v1h-1zM86 401h1v1h-1zM90 401h1v1h-1zM94 401h1v1h-1zM98 401h1v1h-1zM102 401h1v1h-1zM106 401h1v1h-1zM110 401h1v1h-1zM114 401h1v1h-1zM118 401h1v1h-1zM122 401h1v1h-1zM126 401h1v1h-1zM130 401h1v1h-1zM134 401h1v1h-1zM138 401h1v1h-1zM142 401h1v1h-1zM146 401h1v1h-1zM150 401h1v1h-1zM154 401h1v1h-1zM158 401h1v1h-1zM162 401h1v1h-1zM166 401h1v1h-1zM170 401h1v1h-1zM174 401h1v1h-1zM178 401h1v1h-1zM182 401h1v1h-1zM186 401h1v1h-1zM190 401h1v1h-1zM194 401h1v1h-1zM198 401h1v1h-1zM202 401h1v1h-1zM206 401h1v1h-1zM210 401h1v1h-1zM214 401h1v1h-1zM218 401h1v1h-1zM222 401h1v1h-1zM226 401h1v1h-1zM230 401h1v1h-1zM234 401h1v1h-1zM238 401h1v1h-1zM242 401h1v1h-1zM246 401h1v1h-1zM250 401h1v1h-1zM254 401h1v1h-1zM258 401h1v1h-1zM262 401h1v1h-1zM266 401h1v1h-1zM270 401h1v1h-1zM274 401h1v1h-1zM278 401h1v1h-1zM282 401h1v1h-1zM286 401h1v1h-1zM290 401h1v1h-1zM294 401h1v1h-1zM298 401h1v1h-1zM302 401h1v1h-1zM306 401h1v1h-1zM310 401h1v1h-1zM314 401h1v1h-1zM318 401h1v1h-1zM322 401h1v1h-1zM326 401h1v1h-1zM330 401h1v1h-1zM334 401h1v1h-1zM338 401h1v1h-1zM341 401h2v1h-2zM346 401h1v1h-1zM350 401h1v1h-1zM354 401h1v1h-1zM358 401h1v1h-1zM362 401h1v1h-1zM366 401h1v1h-1zM370 401h1v1h-1zM374 401h1v1h-1zM378 401h1v1h-1zM382 401h1v1h-1zM386 401h1v1h-1zM390 401h1v1h-1zM394 401h1v1h-1zM398 401h1v1h-1zM402 401h1v1h-1zM406 401h1v1h-1zM410 401h1v1h-1zM414 401h1v1h-1zM418 401h1v1h-1zM422 401h1v1h-1zM426 401h1v1h-1zM430 401h1v1h-1zM434 401h1v1h-1zM438 401h1v1h-1zM442 401h1v1h-1zM446 401h1v1h-1zM450 401h1v1h-1zM454 401h1v1h-1zM458 401h1v1h-1zM462 401h1v1h-1zM466 401h1v1h-1zM470 401h1v1h-1zM474 401h1v1h-1zM478 401h1v1h-1zM482 401h1v1h-1zM486 401h1v1h-1zM490 401h1v1h-1zM494 401h1v1h-1zM498 401h1v1h-1zM502 401h1v1h-1zM506 401h1v1h-1zM510 401h1v1h-1zM514 401h1v1h-1zM518 401h1v1h-1zM522 401h1v1h-1zM526 401h1v1h-1zM530 401h1v1h-1zM534 401h1v1h-1zM538 401h1v1h-1zM542 401h1v1h-1zM546 401h1v1h-1zM550 401h1v1h-1zM554 401h1v1h-1zM558 401h1v1h-1zM562 401h1v1h-1zM566 401h1v1h-1zM265 402h1v1h-1zM189 403h1v1h-1zM494 403h1v1h-1zM112 404h1v1h-1zM417 404h1v1h-1zM341 405h1v1h-1zM265 406h1v1h-1zM189 407h1v1h-1zM494 407h1v1h-1zM112 408h1v1h-1zM417 408h1v1h-1zM341 409h1v1h-1zM265 410h1v1h-1zM189 411h1v1h-1zM494 411h1v1h-1zM112 412h1v1h-1zM417 412h1v1h-1zM37 413h1v1h-1zM41 413h1v1h-1zM45 413h1v1h-1zM49 413h1v1h-1zM53 413h1v1h-1zM57 413h1v1h-1zM61 413h1v1h-1zM65 413h1v1h-1zM69 413h1v1h-1zM73 413h1v1h-1zM77 413h1v1h-1zM81 413h1v1h-1zM85 413h1v1h-1zM89 413h1v1h-1zM93 413h1v1h-1zM97 413h1v1h-1zM101 413h1v1h-1zM105 413h1v1h-1zM109 413h1v1h-1zM113 413h1v1h-1zM117 413h1v1h-1zM121 413h1v1h-1zM125 413h1v1h-1zM129 413h1v1h-1zM133 413h1v1h-1zM137 413h1v1h-1zM141 413h1v1h-1zM145 413h1v1h-1zM149 413h1v1h-1zM153 413h1v1h-1zM157 413h1v1h-1zM161 413h1v1h-1zM165 413h1v1h-1zM169 413h1v1h-1zM173 413h1v1h-1zM177 413h1v1h-1zM181 413h1v1h-1zM185 413h1v1h-1zM189 413h1v1h-1zM193 413h1v1h-1zM197 413h1v1h-1zM201 413h1v1h-1zM205 413h1v1h-1zM209 413h1v1h-1zM213 413h1v1h-1zM217 413h1v1h-1zM221 413h1v1h-1zM225 413h1v1h-1zM229 413h1v1h-1zM233 413h1v1h-1zM237 413h1v1h-1zM241 413h1v1h-1zM245 413h1v1h-1zM249 413h1v1h-1zM253 413h1v1h-1zM257 413h1v1h-1zM261 413h1v1h-1zM265 413h1v1h-1zM269 413h1v1h-1zM273 413h1v1h-1zM277 413h1v1h-1zM281 413h1v1h-1zM285 413h1v1h-1zM289 413h1v1h-1zM293 413h1v1h-1zM297 413h1v1h-1zM301 413h1v1h-1zM305 413h1v1h-1zM309 413h1v1h-1zM313 413h1v1h-1zM317 413h1v1h-1zM321 413h1v1h-1zM325 413h1v1h-1zM329 413h1v1h-1zM333 413h1v1h-1zM337 413h1v1h-1zM341 413h1v1h-1zM345 413h1v1h-1zM349 413h1v1h-1zM353 413h1v1h-1zM357 413h1v1h-1zM361 413h1v1h-1zM365 413h1v1h-1zM369 413h1v1h-1zM373 413h1v1h-1zM377 413h1v1h-1zM381 413h1v1h-1zM385 413h1v1h-1zM389 413h1v1h-1zM393 413h1v1h-1zM397 413h1v1h-1zM401 413h1v1h-1zM405 413h1v1h-1zM409 413h1v1h-1zM413 413h1v1h-1zM417 413h1v1h-1zM421 413h1v1h-1zM425 413h1v1h-1zM429 413h1v1h-1zM433 413h1v1h-1zM437 413h1v1h-1zM441 413h1v1h-1zM445 413h1v1h-1zM449 413h1v1h-1zM453 413h1v1h-1zM457 413h1v1h-1zM461 413h1v1h-1zM465 413h1v1h-1zM469 413h1v1h-1zM473 413h1v1h-1zM477 413h1v1h-1zM481 413h1v1h-1zM485 413h1v1h-1zM489 413h1v1h-1zM493 413h1v1h-1zM497 413h1v1h-1zM501 413h1v1h-1zM505 413h1v1h-1zM509 413h1v1h-1zM513 413h1v1h-1zM517 413h1v1h-1zM521 413h1v1h-1zM525 413h1v1h-1zM529 413h1v1h-1zM533 413h1v1h-1zM537 413h1v1h-1zM541 413h1v1h-1zM545 413h1v1h-1zM549 413h1v1h-1zM553 413h1v1h-1zM557 413h1v1h-1zM561 413h1v1h-1zM565 413h1v1h-1zM569 413h1v1h-1zM265 414h1v1h-1zM189 415h1v1h-1zM494 415h1v1h-1zM112 416h1v1h-1zM417 416h1v1h-1zM341 417h1v1h-1zM265 418h1v1h-1zM189 419h1v1h-1zM494 419h1v1h-1zM112 420h1v1h-1zM417 420h1v1h-1zM341 421h1v1h-1zM265 422h1v1h-1zM189 423h1v1h-1zM494 423h1v1h-1zM112 424h1v1h-1zM417 424h1v1h-1zM341 425h1v1h-1zM265 426h1v1h-1zM189 427h1v1h-1zM494 427h1v1h-1zM112 428h1v1h-1zM417 428h1v1h-1zM341 429h1v1h-1zM265 430h1v1h-1zM189 431h1v1h-1zM494 431h1v1h-1zM112 432h1v1h-1zM417 432h1v1h-1zM341 433h1v1h-1zM265 434h1v1h-1zM189 435h1v1h-1zM494 435h1v1h-1zM112 436h1v1h-1zM417 436h1v1h-1zM341 437h1v1h-1zM265 438h1v1h-1zM189 439h1v1h-1zM494 439h1v1h-1zM112 440h1v1h-1zM417 440h1v1h-1zM341 441h1v1h-1zM265 442h1v1h-1zM189 443h1v1h-1zM494 443h1v1h-1zM112 444h1v1h-1zM417 444h1v1h-1zM341 445h1v1h-1zM265 446h1v1h-1zM189 447h1v1h-1zM494 447h1v1h-1zM112 448h1v1h-1zM417 448h1v1h-1zM341 449h1v1h-1zM265 450h1v1h-1zM189 451h1v1h-1zM494 451h1v1h-1zM112 452h1v1h-1zM417 452h1v1h-1zM341 453h1v1h-1zM265 454h1v1h-1zM189 455h1v1h-1zM494 455h1v1h-1zM112 456h1v1h-1zM417 456h1v1h-1zM341 457h1v1h-1z" fill="#777777"/>
<path d="M265 19h1v1h-1zM570 19h1v1h-1zM570 23h1v1h-1zM570 27h1v1h-1zM570 31h1v1h-1zM570 35h1v1h-1zM570 39h1v1h-1zM570 43h1v1h-1zM570 47h1v1h-1zM570 51h1v1h-1zM570 55h1v1h-1zM570 59h1v1h-1zM570 63h1v1h-1zM36 65h1v1h-1zM570 67h1v1h-1zM570 71h1v1h-1zM570 75h1v1h-1zM570 79h1v1h-1zM570 83h1v1h-1zM570 87h1v1h-1zM570 91h1v1h-1zM570 95h1v1h-1zM570 99h1v1h-1zM570 103h1v1h-1zM570 107h1v1h-1zM570 111h1v1h-1zM570 115h1v1h-1zM570 119h1v1h-1zM112 132h1v1h-1zM417 132h1v1h-1zM570 134h1v1h-1zM570 138h1v1h-1zM570 142h1v1h-1zM570 146h1v1h-1zM570 150h1v1h-1zM570 154h1v1h-1zM570 158h1v1h-1zM570 162h1v1h-1zM570 166h1v1h-1zM570 170h1v1h-1zM570 174h1v1h-1zM570 177h1v1h-1zM570 178h1v1h-1zM570 182h1v1h-1zM570 186h1v1h-1zM570 190h1v1h-1zM570 194h1v1h-1zM570 198h1v1h-1zM570 202h1v1h-1zM570 206h1v1h-1zM570 210h1v1h-1zM570 214h1v1h-1zM570 218h1v1h-1zM570 222h1v1h-1zM570 226h1v1h-1zM570 230h1v1h-1zM265 244h1v1h-1zM570 244h1v1h-1zM570 248h1v1h-1zM570 252h1v1h-1zM570 256h1v1h-1zM570 260h1v1h-1zM570 264h1v1h-1zM570 268h1v1h-1zM570 272h1v1h-1zM570 276h1v1h-1zM570 280h1v1h-1zM570 284h1v1h-1zM570 288h1v1h-1zM36 289h1v1h-1zM570 292h1v1h-1zM570 296h1v1h-1zM570 300h1v1h-1zM570 304h1v1h-1zM570 308h1v1h-1zM570 312h1v1h-1zM570 316h1v1h-1zM570 320h1v1h-1zM570 324h1v1h-1zM570 328h1v1h-1zM570 332h1v1h-1zM570 336h1v1h-1zM570 340h1v1h-1zM570 344h1v1h-1zM112 356h1v1h-1zM417 356h1v1h-1zM570 358h1v1h-1zM570 362h1v1h-1zM570 366h1v1h-1zM570 370h1v1h-1zM570 374h1v1h-1zM570 378h1v1h-1zM570 382h1v1h-1zM570 386h1v1h-1zM570 390h1v1h-1zM570 394h1v1h-1zM570 398h1v1h-1zM570 401h1v1h-1zM570 402h1v1h-1zM570 406h1v1h-1zM570 410h1v1h-1zM570 414h1v1h-1zM570 418h1v1h-1zM570 422h1v1h-1zM570 426h1v1h-1zM570 430h1v1h-1zM570 434h1v1h-1zM570 438h1v1h-1zM570 442h1v1h-1zM570 446h1v1h-1zM570 450h1v1h-1zM570 454h1v1h-1z" fill="#a8a8a8"/>
<path d="M112 20h1v1h-1zM189 20h1v1h-1zM265 20h1v1h-1zM341 20h1v1h-1zM417 20h1v1h-1zM494 20h1v1h-1zM112 133h1v1h-1zM189 133h1v1h-1zM265 133h1v1h-1zM341 133h1v1h-1zM417 133h1v1h-1zM494 133h1v1h-1zM112 245h1v1h-1zM189 245h1v1h-1zM265 245h1v1h-1zM341 245h1v1h-1zM417 245h1v1h-1zM494 245h1v1h-1zM112 357h1v1h-1zM189 357h1v1h-1zM265 357h1v1h-1zM341 357h1v1h-1zM417 357h1v1h-1zM494 357h1v1h-1zM112 358h1v1h-1zM189 358h1v1h-1zM265 358h1v1h-1zM341 358h1v1h-1zM417 358h1v1h-1zM494 358h1v1h-1z" fill="#000"/>
</g>
<g id="legend">
<rect x="318" y="5" width="13" height="10" fill="#038d03"/>
<rect x="384" y="5" width="13" height="10" fill="#f3c008"/>
<rect x="456" y="5" width="13" height="10" fill="#ff0000"/>
<rect x="528" y="5" width="13" height="10" fill="#3c0086"/>
</g>
<g id="text">
<path d="M2 4h6v1h-6zM23 4h1v1h-1zM64 4h1v1h-1zM71 4h1v1h-1zM84 4h2v1h-2zM103 4h1v1h-1zM106 4h2v1h-2zM143 4h2v1h-2zM169 4h1v1h-1zM194 4h1v1h-1zM207 4h8v1h-8zM228 4h1v1h-1zM6 5h1v1h-1zM23 5h1v1h-1zM64 5h1v1h-1zM70 5h1v1h-1zM85 5h1v1h-1zM103 5h1v1h-1zM106 5h1v1h-1zM142 5h1v1h-1zM169 5h1v1h-1zM194 5h1v1h-1zM214 5h1v1h-1zM228 5h1v1h-1zM6 6h1v1h-1zM23 6h1v1h-1zM64 6h1v1h-1zM69 6h1v1h-1zM103 6h1v1h-1zM142 6h1v1h-1zM169 6h1v1h-1zM194 6h1v1h-1zM213 6h1v1h-1zM228 6h1v1h-1zM5 7h1v1h-1zM23 7h1v1h-1zM25 7h3v1h-3zM34 7h2v1h-2zM41 7h1v1h-1zM46 7h1v1h-1zM50 7h1v1h-1zM52 7h2v1h-2zM64 7h1v1h-1zM68 7h1v1h-1zM85 7h1v1h-1zM89 7h1v1h-1zM91 7h2v1h-2zM99 7h3v1h-3zM103 7h1v1h-1zM106 7h1v1h-1zM112 7h2v1h-2zM120 7h3v1h-3zM128 7h3v1h-3zM140 7h4v1h-4zM149 7h2v1h-2zM156 7h1v1h-1zM158 7h2v1h-2zM169 7h1v1h-1zM179 7h2v1h-2zM182 7h1v1h-1zM187 7h3v1h-3zM193 7h4v1h-4zM213 7h1v1h-1zM225 7h2v1h-2zM228 7h1v1h-1zM234 7h2v1h-2zM237 7h1v1h-1zM240 7h1v1h-1zM245 7h1v1h-1zM249 7h3v1h-3zM271 7h1v1h-1zM305 7h1v1h-1zM338 7h4v1h-4zM350 7h1v1h-1zM365 7h5v1h-5zM406 7h1v1h-1zM424 7h1v1h-1zM443 7h1v1h-1zM476 7h4v1h-4zM496 7h1v1h-1zM513 7h4v1h-4zM547 7h6v1h-6zM568 7h1v1h-1zM585 7h3v1h-3zM4 8h4v1h-4zM23 8h2v1h-2zM28 8h1v1h-1zM33 8h1v1h-1zM36 8h1v1h-1zM41 8h1v1h-1zM46 8h1v1h-1zM50 8h2v1h-2zM64 8h1v1h-1zM66 8h2v1h-2zM85 8h1v1h-1zM89 8h2v1h-2zM93 8h1v1h-1zM98 8h1v1h-1zM102 8h2v1h-2zM106 8h1v1h-1zM111 8h1v1h-1zM114 8h1v1h-1zM119 8h1v1h-1zM123 8h1v1h-1zM127 8h1v1h-1zM131 8h1v1h-1zM142 8h1v1h-1zM148 8h1v1h-1zM151 8h1v1h-1zM156 8h2v1h-2zM169 8h1v1h-1zM178 8h1v1h-1zM181 8h2v1h-2zM186 8h1v1h-1zM190 8h1v1h-1zM194 8h1v1h-1zM212 8h1v1h-1zM224 8h1v1h-1zM227 8h2v1h-2zM233 8h1v1h-1zM236 8h2v1h-2zM240 8h1v1h-1zM245 8h1v1h-1zM248 8h1v1h-1zM252 8h1v1h-1zM271 8h1v1h-1zM305 8h1v1h-1zM337 8h1v1h-1zM341 8h1v1h-1zM350 8h1v1h-1zM368 8h1v1h-1zM375 8h1v1h-1zM405 8h2v1h-2zM424 8h1v1h-1zM442 8h2v1h-2zM449 8h1v1h-1zM476 8h1v1h-1zM496 8h1v1h-1zM512 8h1v1h-1zM516 8h1v1h-1zM521 8h1v1h-1zM551 8h1v1h-1zM568 8h1v1h-1zM584 8h1v1h-1zM588 8h1v1h-1zM7 9h1v1h-1zM23 9h1v1h-1zM28 9h1v1h-1zM32 9h1v1h-1zM37 9h1v1h-1zM41 9h1v1h-1zM46 9h1v1h-1zM50 9h1v1h-1zM64 9h1v1h-1zM66 9h2v1h-2zM85 9h1v1h-1zM89 9h1v1h-1zM94 9h1v1h-1zM97 9h1v1h-1zM103 9h1v1h-1zM106 9h1v1h-1zM110 9h1v1h-1zM115 9h1v1h-1zM118 9h1v1h-1zM124 9h1v1h-1zM126 9h1v1h-1zM132 9h1v1h-1zM142 9h1v1h-1zM147 9h1v1h-1zM152 9h1v1h-1zM156 9h1v1h-1zM169 9h1v1h-1zM177 9h1v1h-1zM182 9h1v1h-1zM186 9h1v1h-1zM191 9h1v1h-1zM194 9h1v1h-1zM212 9h1v1h-1zM223 9h1v1h-1zM228 9h1v1h-1zM232 9h1v1h-1zM237 9h1v1h-1zM241 9h1v1h-1zM244 9h1v1h-1zM248 9h1v1h-1zM253 9h1v1h-1zM271 9h1v1h-1zM278 9h2v1h-2zM284 9h2v1h-2zM287 9h1v1h-1zM291 9h2v1h-2zM295 9h1v1h-1zM297 9h2v1h-2zM303 9h3v1h-3zM337 9h1v1h-1zM342 9h1v1h-1zM348 9h4v1h-4zM355 9h2v1h-2zM368 9h1v1h-1zM375 9h1v1h-1zM405 9h2v1h-2zM423 9h4v1h-4zM429 9h2v1h-2zM441 9h1v1h-1zM443 9h1v1h-1zM449 9h1v1h-1zM475 9h1v1h-1zM477 9h2v1h-2zM495 9h4v1h-4zM501 9h2v1h-2zM512 9h1v1h-1zM521 9h1v1h-1zM551 9h1v1h-1zM567 9h3v1h-3zM573 9h2v1h-2zM584 9h1v1h-1zM588 9h1v1h-1zM8 10h1v1h-1zM11 10h9v1h-9zM23 10h1v1h-1zM28 10h1v1h-1zM31 10h1v1h-1zM37 10h1v1h-1zM41 10h1v1h-1zM46 10h1v1h-1zM50 10h1v1h-1zM64 10h2v1h-2zM68 10h1v1h-1zM74 10h9v1h-9zM85 10h1v1h-1zM89 10h1v1h-1zM94 10h1v1h-1zM97 10h1v1h-1zM103 10h1v1h-1zM106 10h1v1h-1zM110 10h1v1h-1zM118 10h7v1h-7zM127 10h3v1h-3zM142 10h1v1h-1zM146 10h1v1h-1zM152 10h1v1h-1zM156 10h1v1h-1zM169 10h1v1h-1zM177 10h1v1h-1zM182 10h1v1h-1zM186 10h3v1h-3zM194 10h1v1h-1zM211 10h1v1h-1zM222 10h1v1h-1zM228 10h1v1h-1zM231 10h1v1h-1zM237 10h1v1h-1zM241 10h1v1h-1zM244 10h1v1h-1zM248 10h3v1h-3zM271 10h1v1h-1zM277 10h1v1h-1zM280 10h1v1h-1zM283 10h2v1h-2zM286 10h2v1h-2zM289 10h2v1h-2zM292 10h2v1h-2zM295 10h2v1h-2zM299 10h1v1h-1zM302 10h1v1h-1zM305 10h1v1h-1zM308 10h2v1h-2zM337 10h1v1h-1zM342 10h1v1h-1zM350 10h1v1h-1zM353 10h2v1h-2zM356 10h2v1h-2zM367 10h3v1h-3zM375 10h1v1h-1zM404 10h1v1h-1zM406 10h1v1h-1zM424 10h1v1h-1zM428 10h2v1h-2zM431 10h2v1h-2zM441 10h1v1h-1zM443 10h1v1h-1zM449 10h1v1h-1zM475 10h2v1h-2zM479 10h1v1h-1zM496 10h1v1h-1zM500 10h2v1h-2zM503 10h2v1h-2zM512 10h4v1h-4zM521 10h1v1h-1zM550 10h1v1h-1zM568 10h1v1h-1zM572 10h1v1h-1zM575 10h2v1h-2zM584 10h1v1h-1zM588 10h1v1h-1zM8 11h1v1h-1zM23 11h1v1h-1zM28 11h1v1h-1zM31 11h1v1h-1zM37 11h1v1h-1zM41 11h1v1h-1zM46 11h1v1h-1zM50 11h1v1h-1zM64 11h1v1h-1zM68 11h1v1h-1zM85 11h1v1h-1zM89 11h1v1h-1zM94 11h1v1h-1zM97 11h1v1h-1zM103 11h1v1h-1zM106 11h1v1h-1zM110 11h1v1h-1zM118 11h1v1h-1zM130 11h2v1h-2zM142 11h1v1h-1zM146 11h1v1h-1zM152 11h1v1h-1zM156 11h1v1h-1zM169 11h1v1h-1zM177 11h1v1h-1zM182 11h1v1h-1zM189 11h2v1h-2zM194 11h1v1h-1zM211 11h1v1h-1zM222 11h1v1h-1zM228 11h1v1h-1zM231 11h1v1h-1zM237 11h1v1h-1zM242 11h1v1h-1zM244 11h1v1h-1zM251 11h2v1h-2zM271 11h1v1h-1zM276 11h5v1h-5zM282 11h1v1h-1zM287 11h1v1h-1zM289 11h5v1h-5zM295 11h1v1h-1zM299 11h1v1h-1zM301 11h1v1h-1zM305 11h1v1h-1zM337 11h1v1h-1zM342 11h1v1h-1zM350 11h1v1h-1zM353 11h1v1h-1zM357 11h1v1h-1zM369 11h1v1h-1zM372 11h7v1h-7zM404 11h1v1h-1zM406 11h1v1h-1zM410 11h7v1h-7zM424 11h1v1h-1zM428 11h1v1h-1zM432 11h1v1h-1zM440 11h1v1h-1zM443 11h1v1h-1zM446 11h7v1h-7zM480 11h1v1h-1zM482 11h7v1h-7zM496 11h1v1h-1zM500 11h1v1h-1zM504 11h1v1h-1zM512 11h1v1h-1zM516 11h1v1h-1zM518 11h7v1h-7zM550 11h1v1h-1zM554 11h7v1h-7zM568 11h1v1h-1zM571 11h1v1h-1zM576 11h1v1h-1zM585 11h4v1h-4zM1 12h1v1h-1zM8 12h1v1h-1zM23 12h1v1h-1zM28 12h1v1h-1zM31 12h1v1h-1zM37 12h1v1h-1zM41 12h1v1h-1zM46 12h1v1h-1zM50 12h1v1h-1zM64 12h1v1h-1zM69 12h1v1h-1zM85 12h1v1h-1zM89 12h1v1h-1zM94 12h1v1h-1zM97 12h1v1h-1zM103 12h1v1h-1zM106 12h1v1h-1zM110 12h1v1h-1zM118 12h1v1h-1zM132 12h1v1h-1zM142 12h1v1h-1zM146 12h1v1h-1zM152 12h1v1h-1zM156 12h1v1h-1zM169 12h1v1h-1zM177 12h1v1h-1zM182 12h1v1h-1zM191 12h1v1h-1zM194 12h1v1h-1zM210 12h1v1h-1zM222 12h1v1h-1zM228 12h1v1h-1zM231 12h1v1h-1zM237 12h1v1h-1zM242 12h1v1h-1zM244 12h1v1h-1zM253 12h1v1h-1zM271 12h1v1h-1zM276 12h1v1h-1zM282 12h1v1h-1zM287 12h1v1h-1zM289 12h1v1h-1zM295 12h1v1h-1zM299 12h1v1h-1zM301 12h1v1h-1zM305 12h1v1h-1zM337 12h1v1h-1zM341 12h1v1h-1zM350 12h1v1h-1zM353 12h1v1h-1zM357 12h1v1h-1zM369 12h1v1h-1zM375 12h1v1h-1zM403 12h6v1h-6zM424 12h1v1h-1zM428 12h1v1h-1zM432 12h1v1h-1zM439 12h6v1h-6zM449 12h1v1h-1zM480 12h1v1h-1zM496 12h1v1h-1zM500 12h1v1h-1zM504 12h1v1h-1zM512 12h1v1h-1zM516 12h1v1h-1zM521 12h1v1h-1zM549 12h1v1h-1zM568 12h1v1h-1zM571 12h1v1h-1zM576 12h1v1h-1zM588 12h1v1h-1zM1 13h1v1h-1zM7 13h1v1h-1zM23 13h1v1h-1zM28 13h1v1h-1zM32 13h1v1h-1zM37 13h1v1h-1zM41 13h1v1h-1zM45 13h2v1h-2zM50 13h1v1h-1zM64 13h1v1h-1zM70 13h1v1h-1zM85 13h1v1h-1zM89 13h1v1h-1zM94 13h1v1h-1zM97 13h1v1h-1zM103 13h1v1h-1zM106 13h1v1h-1zM110 13h1v1h-1zM115 13h1v1h-1zM118 13h1v1h-1zM124 13h1v1h-1zM126 13h1v1h-1zM132 13h1v1h-1zM142 13h1v1h-1zM147 13h1v1h-1zM152 13h1v1h-1zM156 13h1v1h-1zM169 13h1v1h-1zM177 13h1v1h-1zM182 13h1v1h-1zM186 13h1v1h-1zM191 13h1v1h-1zM194 13h1v1h-1zM210 13h1v1h-1zM223 13h1v1h-1zM228 13h1v1h-1zM232 13h1v1h-1zM237 13h1v1h-1zM243 13h1v1h-1zM248 13h1v1h-1zM253 13h1v1h-1zM271 13h1v1h-1zM277 13h1v1h-1zM280 13h1v1h-1zM283 13h1v1h-1zM287 13h1v1h-1zM289 13h1v1h-1zM293 13h1v1h-1zM295 13h1v1h-1zM299 13h1v1h-1zM302 13h1v1h-1zM305 13h1v1h-1zM337 13h1v1h-1zM341 13h1v1h-1zM350 13h1v1h-1zM353 13h1v1h-1zM357 13h1v1h-1zM364 13h2v1h-2zM369 13h1v1h-1zM375 13h1v1h-1zM406 13h1v1h-1zM424 13h1v1h-1zM428 13h1v1h-1zM432 13h1v1h-1zM443 13h1v1h-1zM449 13h1v1h-1zM475 13h1v1h-1zM479 13h1v1h-1zM496 13h1v1h-1zM500 13h1v1h-1zM504 13h1v1h-1zM512 13h1v1h-1zM516 13h1v1h-1zM521 13h1v1h-1zM549 13h1v1h-1zM568 13h1v1h-1zM572 13h1v1h-1zM576 13h1v1h-1zM584 13h1v1h-1zM588 13h1v1h-1zM2 14h5v1h-5zM23 14h1v1h-1zM28 14h1v1h-1zM33 14h4v1h-4zM41 14h4v1h-4zM46 14h1v1h-1zM50 14h1v1h-1zM64 14h1v1h-1zM71 14h1v1h-1zM85 14h1v1h-1zM89 14h1v1h-1zM94 14h1v1h-1zM98 14h6v1h-6zM106 14h1v1h-1zM111 14h4v1h-4zM119 14h5v1h-5zM127 14h5v1h-5zM142 14h1v1h-1zM148 14h4v1h-4zM156 14h1v1h-1zM169 14h7v1h-7zM178 14h5v1h-5zM186 14h5v1h-5zM195 14h3v1h-3zM209 14h1v1h-1zM224 14h5v1h-5zM233 14h5v1h-5zM243 14h1v1h-1zM248 14h5v1h-5zM271 14h5v1h-5zM277 14h4v1h-4zM284 14h4v1h-4zM290 14h3v1h-3zM295 14h1v1h-1zM299 14h1v1h-1zM302 14h4v1h-4zM308 14h2v1h-2zM338 14h4v1h-4zM350 14h2v1h-2zM354 14h3v1h-3zM365 14h4v1h-4zM375 14h1v1h-1zM406 14h1v1h-1zM425 14h2v1h-2zM429 14h3v1h-3zM443 14h1v1h-1zM449 14h1v1h-1zM476 14h4v1h-4zM497 14h2v1h-2zM501 14h3v1h-3zM513 14h3v1h-3zM521 14h1v1h-1zM548 14h1v1h-1zM568 14h3v1h-3zM572 14h4v1h-4zM584 14h4v1h-4zM243 15h1v1h-1zM287 15h1v1h-1zM242 16h1v1h-1zM284 16h3v1h-3zM239 17h3v1h-3zM29 19h3v1h-3zM28 20h1v1h-1zM32 20h1v1h-1zM28 21h1v1h-1zM32 21h1v1h-1zM28 22h2v1h-2zM31 22h2v1h-2zM30 23h1v1h-1zM32 23h1v1h-1zM28 24h1v1h-1zM32 24h1v1h-1zM29 25h3v1h-3zM29 28h4v1h-4zM28 29h1v1h-1zM32 29h1v1h-1zM29 30h4v1h-4zM28 31h2v1h-2zM31 31h2v1h-2zM28 32h1v1h-1zM32 32h1v1h-1zM28 33h1v1h-1zM32 33h1v1h-1zM29 34h4v1h-4zM28 39h5v1h-5zM32 40h1v1h-1zM31 41h1v1h-1zM31 42h1v1h-1zM30 43h1v1h-1zM30 44h1v1h-1zM29 45h1v1h-1zM29 51h4v1h-4zM7 52h1v1h-1zM28 52h1v1h-1zM7 53h1v1h-1zM28 53h4v1h-4zM7 54h1v1h-1zM28 54h1v1h-1zM32 54h1v1h-1zM7 55h6v1h-6zM28 55h1v1h-1zM32 55h1v1h-1zM28 56h2v1h-2zM31 56h2v1h-2zM30 57h1v1h-1zM7 58h3v1h-3zM11 58h2v1h-2zM7 59h1v1h-1zM9 59h1v1h-1zM12 59h1v1h-1zM7 60h1v1h-1zM9 60h1v1h-1zM12 60h1v1h-1zM7 61h1v1h-1zM9 61h1v1h-1zM12 61h1v1h-1zM8 62h4v1h-4zM29 62h4v1h-4zM29 63h1v1h-1zM28 64h4v1h-4zM4 65h9v1h-9zM32 65h1v1h-1zM7 66h1v1h-1zM12 66h1v1h-1zM32 66h1v1h-1zM7 67h1v1h-1zM12 67h1v1h-1zM28 67h1v1h-1zM32 67h1v1h-1zM7 68h1v1h-1zM12 68h1v1h-1zM29 68h3v1h-3zM8 69h1v1h-1zM11 69h1v1h-1zM9 70h2v1h-2zM4 72h9v1h-9zM31 73h1v1h-1zM30 74h2v1h-2zM7 75h6v1h-6zM30 75h2v1h-2zM11 76h1v1h-1zM29 76h1v1h-1zM31 76h1v1h-1zM12 77h1v1h-1zM28 77h5v1h-5zM12 78h1v1h-1zM31 78h1v1h-1zM12 79h1v1h-1zM31 79h1v1h-1zM7 80h5v1h-5zM9 82h2v1h-2zM7 83h2v1h-2zM11 83h2v1h-2zM7 84h1v1h-1zM12 84h1v1h-1zM7 85h1v1h-1zM12 85h1v1h-1zM29 85h4v1h-4zM7 86h1v1h-1zM12 86h1v1h-1zM31 86h1v1h-1zM8 87h4v1h-4zM30 87h3v1h-3zM32 88h1v1h-1zM28 89h1v1h-1zM32 89h1v1h-1zM4 90h9v1h-9zM28 90h2v1h-2zM31 90h2v1h-2zM4 91h1v1h-1zM7 91h2v1h-2zM12 91h1v1h-1zM30 91h1v1h-1zM4 92h1v1h-1zM8 92h1v1h-1zM12 92h1v1h-1zM4 93h1v1h-1zM8 93h1v1h-1zM12 93h1v1h-1zM4 94h1v1h-1zM8 94h1v1h-1zM12 94h1v1h-1zM4 95h9v1h-9zM29 96h4v1h-4zM28 97h1v1h-1zM32 97h1v1h-1zM32 98h1v1h-1zM31 99h1v1h-1zM30 100h1v1h-1zM29 101h1v1h-1zM28 102h5v1h-5zM30 107h1v1h-1zM28 108h3v1h-3zM30 109h1v1h-1zM30 110h1v1h-1zM30 111h1v1h-1zM30 112h1v1h-1zM30 113h1v1h-1zM29 116h3v1h-3zM28 117h1v1h-1zM32 117h1v1h-1zM28 118h1v1h-1zM32 118h1v1h-1zM28 119h1v1h-1zM32 119h1v1h-1zM28 120h1v1h-1zM32 120h1v1h-1zM29 121h3v1h-3zM29 131h3v1h-3zM28 132h1v1h-1zM32 132h1v1h-1zM28 133h1v1h-1zM32 133h1v1h-1zM28 134h1v1h-1zM32 134h1v1h-1zM29 135h4v1h-4zM28 136h1v1h-1zM32 136h1v1h-1zM29 137h3v1h-3zM29 140h4v1h-4zM28 141h1v1h-1zM32 141h1v1h-1zM28 142h2v1h-2zM31 142h2v1h-2zM7 143h8v1h-8zM29 143h3v1h-3zM7 144h1v1h-1zM12 144h1v1h-1zM14 144h2v1h-2zM28 144h1v1h-1zM32 144h1v1h-1zM7 145h1v1h-1zM12 145h1v1h-1zM15 145h1v1h-1zM28 145h1v1h-1zM32 145h1v1h-1zM7 146h1v1h-1zM12 146h1v1h-1zM14 146h2v1h-2zM28 146h5v1h-5zM8 147h1v1h-1zM11 147h1v1h-1zM9 148h2v1h-2zM7 149h1v1h-1zM7 150h1v1h-1zM7 151h1v1h-1zM28 151h5v1h-5zM7 152h6v1h-6zM32 152h1v1h-1zM31 153h1v1h-1zM31 154h1v1h-1zM7 155h6v1h-6zM30 155h1v1h-1zM11 156h2v1h-2zM30 156h1v1h-1zM12 157h1v1h-1zM29 157h1v1h-1zM12 158h1v1h-1zM29 158h1v1h-1zM7 159h6v1h-6zM9 162h2v1h-2zM7 163h2v1h-2zM11 163h2v1h-2zM29 163h3v1h-3zM7 164h1v1h-1zM12 164h1v1h-1zM28 164h1v1h-1zM32 164h1v1h-1zM7 165h1v1h-1zM12 165h1v1h-1zM28 165h4v1h-4zM7 166h1v1h-1zM12 166h1v1h-1zM28 166h1v1h-1zM32 166h1v1h-1zM4 167h9v1h-9zM28 167h1v1h-1zM32 167h1v1h-1zM28 168h1v1h-1zM32 168h1v1h-1zM8 169h1v1h-1zM10 169h2v1h-2zM29 169h3v1h-3zM7 170h1v1h-1zM10 170h1v1h-1zM12 170h1v1h-1zM7 171h1v1h-1zM9 171h1v1h-1zM12 171h1v1h-1zM7 172h1v1h-1zM9 172h1v1h-1zM12 172h1v1h-1zM7 173h1v1h-1zM9 173h1v1h-1zM12 173h1v1h-1zM8 174h1v1h-1zM11 174h1v1h-1zM29 174h4v1h-4zM29 175h1v1h-1zM7 176h1v1h-1zM12 176h1v1h-1zM28 176h4v1h-4zM8 177h1v1h-1zM10 177h2v1h-2zM28 177h1v1h-1zM32 177h1v1h-1zM8 178h2v1h-2zM32 178h1v1h-1zM9 179h1v1h-1zM28 179h1v1h-1zM32 179h1v1h-1zM4 180h9v1h-9zM28 180h4v1h-4zM7 183h2v1h-2zM11 183h2v1h-2zM7 184h1v1h-1zM12 184h1v1h-1zM7 185h1v1h-1zM12 185h1v1h-1zM31 185h1v1h-1zM7 186h1v1h-1zM12 186h1v1h-1zM30 186h2v1h-2zM8 187h4v1h-4zM30 187h2v1h-2zM29 188h1v1h-1zM31 188h1v1h-1zM29 189h1v1h-1zM31 189h1v1h-1zM4 190h1v1h-1zM7 190h6v1h-6zM28 190h5v1h-5zM31 191h1v1h-1zM7 192h1v1h-1zM31 192h1v1h-1zM7 193h1v1h-1zM7 194h1v1h-1zM7 195h6v1h-6zM29 197h4v1h-4zM7 198h3v1h-3zM11 198h2v1h-2zM31 198h1v1h-1zM7 199h1v1h-1zM9 199h1v1h-1zM12 199h1v1h-1zM30 199h3v1h-3zM7 200h1v1h-1zM9 200h1v1h-1zM12 200h1v1h-1zM32 200h1v1h-1zM7 201h1v1h-1zM9 201h1v1h-1zM12 201h1v1h-1zM32 201h1v1h-1zM8 202h4v1h-4zM28 202h1v1h-1zM32 202h1v1h-1zM29 203h3v1h-3zM4 205h9v1h-9zM7 206h1v1h-1zM12 206h1v1h-1zM7 207h1v1h-1zM12 207h1v1h-1zM7 208h1v1h-1zM12 208h1v1h-1zM29 208h3v1h-3zM8 209h1v1h-1zM11 209h1v1h-1zM28 209h2v1h-2zM32 209h1v1h-1zM9 210h2v1h-2zM28 210h1v1h-1zM32 210h1v1h-1zM31 211h1v1h-1zM7 212h3v1h-3zM11 212h1v1h-1zM30 212h1v1h-1zM7 213h1v1h-1zM9 213h1v1h-1zM12 213h1v1h-1zM29 213h1v1h-1zM7 214h1v1h-1zM9 214h1v1h-1zM12 214h1v1h-1zM28 214h5v1h-5zM7 215h1v1h-1zM9 215h1v1h-1zM12 215h1v1h-1zM8 216h4v1h-4zM7 218h1v1h-1zM7 219h1v1h-1zM30 219h1v1h-1zM7 220h1v1h-1zM29 220h2v1h-2zM7 221h6v1h-6zM28 221h1v1h-1zM30 221h1v1h-1zM30 222h1v1h-1zM4 223h1v1h-1zM30 223h1v1h-1zM4 224h1v1h-1zM30 224h1v1h-1zM4 225h1v1h-1zM8 225h1v1h-1zM30 225h1v1h-1zM4 226h1v1h-1zM8 226h1v1h-1zM30 226h1v1h-1zM4 227h1v1h-1zM8 227h1v1h-1zM4 228h9v1h-9zM29 228h3v1h-3zM28 229h1v1h-1zM32 229h1v1h-1zM28 230h1v1h-1zM32 230h1v1h-1zM28 231h1v1h-1zM32 231h1v1h-1zM28 232h1v1h-1zM32 232h1v1h-1zM28 233h1v1h-1zM32 233h1v1h-1zM29 234h3v1h-3zM29 243h3v1h-3zM28 244h1v1h-1zM32 244h1v1h-1zM28 245h1v1h-1zM32 245h1v1h-1zM28 246h1v1h-1zM32 246h1v1h-1zM29 247h4v1h-4zM28 248h1v1h-1zM32 248h1v1h-1zM29 249h3v1h-3zM30 252h2v1h-2zM28 253h2v1h-2zM32 253h1v1h-1zM28 254h2v1h-2zM32 254h1v1h-1zM29 255h3v1h-3zM28 256h1v1h-1zM32 256h1v1h-1zM28 257h1v1h-1zM32 257h1v1h-1zM7 258h2v1h-2zM28 258h5v1h-5zM9 259h2v1h-2zM11 260h3v1h-3zM10 261h2v1h-2zM14 261h1v1h-1zM8 262h2v1h-2zM14 262h1v1h-1zM7 263h1v1h-1zM15 263h1v1h-1zM7 264h1v1h-1zM28 264h5v1h-5zM7 265h1v1h-1zM32 265h1v1h-1zM7 266h2v1h-2zM31 266h1v1h-1zM7 267h6v1h-6zM31 267h1v1h-1zM30 268h1v1h-1zM30 269h1v1h-1zM7 270h6v1h-6zM29 270h1v1h-1zM7 271h1v1h-1zM12 271h1v1h-1zM7 272h1v1h-1zM12 272h1v1h-1zM7 273h1v1h-1zM12 273h1v1h-1zM8 274h1v1h-1zM11 274h1v1h-1zM9 275h2v1h-2zM29 275h3v1h-3zM12 276h1v1h-1zM28 276h1v1h-1zM32 276h1v1h-1zM7 277h1v1h-1zM12 277h1v1h-1zM28 277h1v1h-1zM30 277h1v1h-1zM4 278h9v1h-9zM28 278h2v1h-2zM31 278h2v1h-2zM7 279h1v1h-1zM28 279h1v1h-1zM32 279h1v1h-1zM7 280h1v1h-1zM28 280h1v1h-1zM32 280h1v1h-1zM8 281h2v1h-2zM11 281h1v1h-1zM29 281h3v1h-3zM7 282h1v1h-1zM9 282h1v1h-1zM12 282h1v1h-1zM7 283h1v1h-1zM9 283h1v1h-1zM12 283h1v1h-1zM7 284h1v1h-1zM9 284h1v1h-1zM12 284h1v1h-1zM7 285h1v1h-1zM9 285h1v1h-1zM12 285h1v1h-1zM8 286h4v1h-4zM29 286h4v1h-4zM29 287h1v1h-1zM28 288h1v1h-1zM30 288h1v1h-1zM7 289h6v1h-6zM28 289h2v1h-2zM31 289h2v1h-2zM7 290h1v1h-1zM32 290h1v1h-1zM7 291h1v1h-1zM28 291h1v1h-1zM32 291h1v1h-1zM7 292h1v1h-1zM28 292h5v1h-5zM7 293h6v1h-6zM7 296h6v1h-6zM7 297h1v1h-1zM12 297h1v1h-1zM7 298h1v1h-1zM12 298h1v1h-1zM31 298h1v1h-1zM7 299h1v1h-1zM12 299h1v1h-1zM30 299h2v1h-2zM7 300h2v1h-2zM11 300h2v1h-2zM30 300h2v1h-2zM9 301h2v1h-2zM29 301h1v1h-1zM31 301h1v1h-1zM28 302h5v1h-5zM4 303h9v1h-9zM31 303h1v1h-1zM31 304h1v1h-1zM5 306h3v1h-3zM4 307h2v1h-2zM7 307h2v1h-2zM4 308h1v1h-1zM8 308h1v1h-1zM4 309h1v1h-1zM8 309h1v1h-1zM29 309h4v1h-4zM4 310h1v1h-1zM8 310h1v1h-1zM31 310h1v1h-1zM4 311h1v1h-1zM8 311h1v1h-1zM30 311h2v1h-2zM4 312h9v1h-9zM32 312h1v1h-1zM32 313h1v1h-1zM28 314h1v1h-1zM32 314h1v1h-1zM29 315h3v1h-3zM30 320h2v1h-2zM11 321h2v1h-2zM28 321h2v1h-2zM31 321h2v1h-2zM28 322h1v1h-1zM32 322h1v1h-1zM31 323h2v1h-2zM7 324h1v1h-1zM12 324h1v1h-1zM30 324h1v1h-1zM7 325h1v1h-1zM12 325h1v1h-1zM29 325h1v1h-1zM4 326h8v1h-8zM28 326h5v1h-5zM7 327h1v1h-1zM7 329h2v1h-2zM10 329h3v1h-3zM7 330h1v1h-1zM9 330h1v1h-1zM12 330h1v1h-1zM7 331h1v1h-1zM9 331h1v1h-1zM12 331h1v1h-1zM7 332h1v1h-1zM9 332h1v1h-1zM12 332h1v1h-1zM29 332h2v1h-2zM7 333h3v1h-3zM11 333h2v1h-2zM28 333h1v1h-1zM30 333h1v1h-1zM30 334h1v1h-1zM4 335h1v1h-1zM12 335h1v1h-1zM30 335h1v1h-1zM4 336h1v1h-1zM12 336h1v1h-1zM30 336h1v1h-1zM4 337h1v1h-1zM8 337h1v1h-1zM12 337h1v1h-1zM30 337h1v1h-1zM4 338h1v1h-1zM8 338h1v1h-1zM12 338h1v1h-1zM30 338h1v1h-1zM4 339h1v1h-1zM8 339h1v1h-1zM12 339h1v1h-1zM4 340h9v1h-9zM29 340h3v1h-3zM28 341h1v1h-1zM32 341h1v1h-1zM28 342h1v1h-1zM32 342h1v1h-1zM28 343h1v1h-1zM32 343h1v1h-1zM28 344h1v1h-1zM32 344h1v1h-1zM28 345h1v1h-1zM32 345h1v1h-1zM29 346h3v1h-3zM30 356h1v1h-1zM28 357h2v1h-2zM31 357h2v1h-2zM28 358h1v1h-1zM32 358h1v1h-1zM28 359h1v1h-1zM32 359h1v1h-1zM29 360h4v1h-4zM28 361h1v1h-1zM32 361h1v1h-1zM29 362h3v1h-3zM30 364h2v1h-2zM28 365h2v1h-2zM32 365h1v1h-1zM28 366h2v1h-2zM32 366h1v1h-1zM29 367h3v1h-3zM28 368h1v1h-1zM32 368h1v1h-1zM28 369h1v1h-1zM32 369h1v1h-1zM28 370h2v1h-2zM32 370h1v1h-1zM30 371h2v1h-2zM28 376h5v1h-5zM32 377h1v1h-1zM31 378h1v1h-1zM31 379h1v1h-1zM30 380h1v1h-1zM30 381h1v1h-1zM29 382h1v1h-1zM7 387h3v1h-3zM11 387h2v1h-2zM29 387h3v1h-3zM7 388h1v1h-1zM9 388h1v1h-1zM12 388h1v1h-1zM28 388h1v1h-1zM32 388h1v1h-1zM7 389h1v1h-1zM9 389h1v1h-1zM12 389h1v1h-1zM28 389h1v1h-1zM30 389h1v1h-1zM7 390h1v1h-1zM9 390h1v1h-1zM12 390h1v1h-1zM28 390h2v1h-2zM31 390h2v1h-2zM8 391h4v1h-4zM28 391h1v1h-1zM32 391h1v1h-1zM28 392h1v1h-1zM32 392h1v1h-1zM29 393h3v1h-3zM7 394h8v1h-8zM7 395h1v1h-1zM12 395h1v1h-1zM14 395h2v1h-2zM7 396h1v1h-1zM12 396h1v1h-1zM15 396h1v1h-1zM7 397h1v1h-1zM12 397h1v1h-1zM14 397h2v1h-2zM8 398h1v1h-1zM11 398h1v1h-1zM29 398h4v1h-4zM9 399h2v1h-2zM29 399h1v1h-1zM28 400h1v1h-1zM30 400h1v1h-1zM7 401h3v1h-3zM11 401h1v1h-1zM28 401h2v1h-2zM31 401h2v1h-2zM7 402h1v1h-1zM9 402h1v1h-1zM12 402h1v1h-1zM32 402h1v1h-1zM7 403h1v1h-1zM9 403h1v1h-1zM12 403h1v1h-1zM28 403h1v1h-1zM32 403h1v1h-1zM7 404h1v1h-1zM9 404h1v1h-1zM12 404h1v1h-1zM28 404h2v1h-2zM31 404h2v1h-2zM8 405h4v1h-4zM30 405h1v1h-1zM4 408h9v1h-9zM31 410h1v1h-1zM4 411h9v1h-9zM30 411h2v1h-2zM30 412h2v1h-2zM29 413h1v1h-1zM31 413h1v1h-1zM8 414h4v1h-4zM28 414h5v1h-5zM7 415h1v1h-1zM12 415h1v1h-1zM31 415h1v1h-1zM7 416h1v1h-1zM12 416h1v1h-1zM31 416h1v1h-1zM7 417h1v1h-1zM12 417h1v1h-1zM7 418h1v1h-1zM12 418h1v1h-1zM8 419h4v1h-4zM6 421h1v1h-1zM10 421h1v1h-1zM29 421h4v1h-4zM4 422h2v1h-2zM11 422h2v1h-2zM31 422h1v1h-1zM4 423h1v1h-1zM12 423h1v1h-1zM30 423h2v1h-2zM4 424h1v1h-1zM12 424h1v1h-1zM32 424h1v1h-1zM4 425h1v1h-1zM12 425h1v1h-1zM32 425h1v1h-1zM5 426h1v1h-1zM11 426h1v1h-1zM28 426h1v1h-1zM32 426h1v1h-1zM6 427h5v1h-5zM28 427h4v1h-4zM30 432h2v1h-2zM29 433h1v1h-1zM31 433h2v1h-2zM28 434h1v1h-1zM32 434h1v1h-1zM32 435h1v1h-1zM31 436h1v1h-1zM30 437h1v1h-1zM29 438h1v1h-1zM28 439h5v1h-5zM30 444h1v1h-1zM28 445h3v1h-3zM30 446h1v1h-1zM30 447h1v1h-1zM30 448h1v1h-1zM30 449h1v1h-1zM30 450h1v1h-1zM29 452h3v1h-3zM28 453h1v1h-1zM32 453h1v1h-1zM28 454h1v1h-1zM32 454h1v1h-1zM28 455h1v1h-1zM32 455h1v1h-1zM28 456h1v1h-1zM32 456h1v1h-1zM28 457h1v1h-1zM32 457h1v1h-1zM29 458h3v1h-3zM21 465h1v1h-1zM43 465h3v1h-3zM49 465h5v1h-5zM97 465h1v1h-1zM119 465h3v1h-3zM128 465h1v1h-1zM174 465h1v1h-1zM196 465h3v1h-3zM202 465h4v1h-4zM250 465h1v1h-1zM272 465h3v1h-3zM279 465h3v1h-3zM326 465h1v1h-1zM348 465h3v1h-3zM353 465h6v1h-6zM402 465h1v1h-1zM424 465h3v1h-3zM430 465h4v1h-4zM479 465h1v1h-1zM501 465h3v1h-3zM507 465h4v1h-4zM555 465h1v1h-1zM578 465h1v1h-1zM584 465h3v1h-3zM21 466h1v1h-1zM42 466h1v1h-1zM46 466h1v1h-1zM52 466h1v1h-1zM97 466h1v1h-1zM118 466h1v1h-1zM122 466h1v1h-1zM127 466h2v1h-2zM174 466h1v1h-1zM195 466h1v1h-1zM199 466h1v1h-1zM202 466h1v1h-1zM250 466h1v1h-1zM271 466h1v1h-1zM275 466h1v1h-1zM278 466h1v1h-1zM282 466h1v1h-1zM326 466h1v1h-1zM347 466h1v1h-1zM351 466h1v1h-1zM358 466h1v1h-1zM402 466h1v1h-1zM423 466h1v1h-1zM427 466h1v1h-1zM430 466h1v1h-1zM434 466h1v1h-1zM479 466h1v1h-1zM500 466h1v1h-1zM504 466h1v1h-1zM507 466h1v1h-1zM510 466h1v1h-1zM555 466h1v1h-1zM577 466h2v1h-2zM583 466h1v1h-1zM587 466h1v1h-1zM21 467h1v1h-1zM24 467h1v1h-1zM28 467h1v1h-1zM31 467h3v1h-3zM42 467h1v1h-1zM46 467h1v1h-1zM52 467h1v1h-1zM97 467h1v1h-1zM100 467h1v1h-1zM104 467h1v1h-1zM107 467h3v1h-3zM118 467h1v1h-1zM122 467h1v1h-1zM126 467h1v1h-1zM128 467h1v1h-1zM174 467h1v1h-1zM177 467h1v1h-1zM181 467h1v1h-1zM184 467h3v1h-3zM195 467h1v1h-1zM199 467h1v1h-1zM202 467h3v1h-3zM250 467h1v1h-1zM253 467h1v1h-1zM257 467h1v1h-1zM260 467h3v1h-3zM271 467h1v1h-1zM275 467h1v1h-1zM278 467h1v1h-1zM326 467h1v1h-1zM329 467h1v1h-1zM333 467h1v1h-1zM336 467h3v1h-3zM347 467h1v1h-1zM351 467h1v1h-1zM357 467h1v1h-1zM402 467h1v1h-1zM405 467h1v1h-1zM409 467h1v1h-1zM412 467h3v1h-3zM423 467h1v1h-1zM427 467h1v1h-1zM430 467h1v1h-1zM433 467h2v1h-2zM479 467h1v1h-1zM482 467h1v1h-1zM486 467h1v1h-1zM489 467h3v1h-3zM500 467h1v1h-1zM504 467h1v1h-1zM506 467h1v1h-1zM511 467h1v1h-1zM555 467h1v1h-1zM558 467h1v1h-1zM562 467h1v1h-1zM565 467h3v1h-3zM578 467h1v1h-1zM583 467h1v1h-1zM587 467h1v1h-1zM21 468h1v1h-1zM24 468h1v1h-1zM28 468h1v1h-1zM31 468h2v1h-2zM34 468h1v1h-1zM42 468h1v1h-1zM46 468h1v1h-1zM51 468h3v1h-3zM97 468h1v1h-1zM100 468h1v1h-1zM104 468h1v1h-1zM107 468h2v1h-2zM110 468h1v1h-1zM118 468h1v1h-1zM122 468h1v1h-1zM126 468h1v1h-1zM128 468h1v1h-1zM174 468h1v1h-1zM177 468h1v1h-1zM181 468h1v1h-1zM184 468h2v1h-2zM187 468h1v1h-1zM194 468h1v1h-1zM199 468h1v1h-1zM202 468h1v1h-1zM205 468h2v1h-2zM250 468h1v1h-1zM253 468h1v1h-1zM257 468h1v1h-1zM260 468h2v1h-2zM263 468h1v1h-1zM270 468h1v1h-1zM275 468h1v1h-1zM278 468h4v1h-4zM326 468h1v1h-1zM329 468h1v1h-1zM333 468h1v1h-1zM336 468h2v1h-2zM339 468h1v1h-1zM346 468h1v1h-1zM351 468h1v1h-1zM357 468h1v1h-1zM402 468h1v1h-1zM405 468h1v1h-1zM409 468h1v1h-1zM412 468h2v1h-2zM415 468h1v1h-1zM422 468h1v1h-1zM427 468h1v1h-1zM430 468h4v1h-4zM479 468h1v1h-1zM482 468h1v1h-1zM486 468h1v1h-1zM489 468h2v1h-2zM492 468h1v1h-1zM500 468h1v1h-1zM504 468h1v1h-1zM507 468h1v1h-1zM510 468h2v1h-2zM555 468h1v1h-1zM558 468h1v1h-1zM562 468h1v1h-1zM565 468h2v1h-2zM568 468h1v1h-1zM578 468h1v1h-1zM582 468h1v1h-1zM587 468h1v1h-1zM21 469h1v1h-1zM24 469h1v1h-1zM28 469h1v1h-1zM31 469h1v1h-1zM34 469h1v1h-1zM42 469h1v1h-1zM46 469h1v1h-1zM53 469h1v1h-1zM97 469h1v1h-1zM100 469h1v1h-1zM104 469h1v1h-1zM107 469h1v1h-1zM110 469h1v1h-1zM118 469h1v1h-1zM122 469h1v1h-1zM125 469h1v1h-1zM128 469h1v1h-1zM174 469h1v1h-1zM177 469h1v1h-1zM181 469h1v1h-1zM184 469h1v1h-1zM187 469h1v1h-1zM194 469h1v1h-1zM199 469h1v1h-1zM206 469h1v1h-1zM250 469h1v1h-1zM253 469h1v1h-1zM257 469h1v1h-1zM260 469h1v1h-1zM263 469h1v1h-1zM270 469h1v1h-1zM275 469h1v1h-1zM278 469h1v1h-1zM282 469h1v1h-1zM326 469h1v1h-1zM329 469h1v1h-1zM333 469h1v1h-1zM336 469h1v1h-1zM339 469h1v1h-1zM346 469h1v1h-1zM351 469h1v1h-1zM356 469h1v1h-1zM402 469h1v1h-1zM405 469h1v1h-1zM409 469h1v1h-1zM412 469h1v1h-1zM415 469h1v1h-1zM422 469h1v1h-1zM427 469h1v1h-1zM430 469h1v1h-1zM434 469h1v1h-1zM479 469h1v1h-1zM482 469h1v1h-1zM486 469h1v1h-1zM489 469h1v1h-1zM492 469h1v1h-1zM500 469h1v1h-1zM504 469h1v1h-1zM507 469h5v1h-5zM555 469h1v1h-1zM558 469h1v1h-1zM562 469h1v1h-1zM565 469h1v1h-1zM568 469h1v1h-1zM578 469h1v1h-1zM582 469h1v1h-1zM587 469h1v1h-1zM18 470h1v1h-1zM21 470h1v1h-1zM24 470h1v1h-1zM28 470h1v1h-1zM31 470h1v1h-1zM34 470h1v1h-1zM42 470h1v1h-1zM46 470h1v1h-1zM53 470h1v1h-1zM94 470h1v1h-1zM97 470h1v1h-1zM100 470h1v1h-1zM104 470h1v1h-1zM107 470h1v1h-1zM110 470h1v1h-1zM118 470h1v1h-1zM122 470h1v1h-1zM124 470h6v1h-6zM171 470h1v1h-1zM174 470h1v1h-1zM177 470h1v1h-1zM181 470h1v1h-1zM184 470h1v1h-1zM187 470h1v1h-1zM194 470h1v1h-1zM199 470h1v1h-1zM206 470h1v1h-1zM247 470h1v1h-1zM250 470h1v1h-1zM253 470h1v1h-1zM257 470h1v1h-1zM260 470h1v1h-1zM263 470h1v1h-1zM270 470h1v1h-1zM275 470h1v1h-1zM278 470h1v1h-1zM282 470h1v1h-1zM323 470h1v1h-1zM326 470h1v1h-1zM329 470h1v1h-1zM333 470h1v1h-1zM336 470h1v1h-1zM339 470h1v1h-1zM346 470h1v1h-1zM351 470h1v1h-1zM356 470h1v1h-1zM399 470h1v1h-1zM402 470h1v1h-1zM405 470h1v1h-1zM409 470h1v1h-1zM412 470h1v1h-1zM415 470h1v1h-1zM422 470h1v1h-1zM427 470h1v1h-1zM429 470h1v1h-1zM434 470h1v1h-1zM476 470h1v1h-1zM479 470h1v1h-1zM482 470h1v1h-1zM486 470h1v1h-1zM489 470h1v1h-1zM492 470h1v1h-1zM500 470h1v1h-1zM504 470h1v1h-1zM511 470h1v1h-1zM552 470h1v1h-1zM555 470h1v1h-1zM558 470h1v1h-1zM562 470h1v1h-1zM565 470h1v1h-1zM568 470h1v1h-1zM578 470h1v1h-1zM582 470h1v1h-1zM587 470h1v1h-1zM18 471h1v1h-1zM21 471h1v1h-1zM24 471h1v1h-1zM28 471h1v1h-1zM31 471h1v1h-1zM34 471h1v1h-1zM42 471h1v1h-1zM46 471h1v1h-1zM48 471h2v1h-2zM53 471h1v1h-1zM94 471h1v1h-1zM97 471h1v1h-1zM100 471h1v1h-1zM104 471h1v1h-1zM107 471h1v1h-1zM110 471h1v1h-1zM118 471h1v1h-1zM122 471h1v1h-1zM128 471h1v1h-1zM171 471h1v1h-1zM174 471h1v1h-1zM177 471h1v1h-1zM181 471h1v1h-1zM184 471h1v1h-1zM187 471h1v1h-1zM195 471h1v1h-1zM199 471h1v1h-1zM201 471h2v1h-2zM206 471h1v1h-1zM247 471h1v1h-1zM250 471h1v1h-1zM253 471h1v1h-1zM257 471h1v1h-1zM260 471h1v1h-1zM263 471h1v1h-1zM271 471h1v1h-1zM275 471h1v1h-1zM278 471h1v1h-1zM282 471h1v1h-1zM323 471h1v1h-1zM326 471h1v1h-1zM329 471h1v1h-1zM333 471h1v1h-1zM336 471h1v1h-1zM339 471h1v1h-1zM347 471h1v1h-1zM351 471h1v1h-1zM355 471h1v1h-1zM399 471h1v1h-1zM402 471h1v1h-1zM405 471h1v1h-1zM409 471h1v1h-1zM412 471h1v1h-1zM415 471h1v1h-1zM423 471h1v1h-1zM427 471h1v1h-1zM429 471h2v1h-2zM434 471h1v1h-1zM476 471h1v1h-1zM479 471h1v1h-1zM482 471h1v1h-1zM486 471h1v1h-1zM489 471h1v1h-1zM492 471h1v1h-1zM500 471h1v1h-1zM504 471h1v1h-1zM507 471h1v1h-1zM510 471h1v1h-1zM552 471h1v1h-1zM555 471h1v1h-1zM558 471h1v1h-1zM562 471h1v1h-1zM565 471h1v1h-1zM568 471h1v1h-1zM578 471h1v1h-1zM583 471h1v1h-1zM587 471h1v1h-1zM19 472h3v1h-3zM24 472h5v1h-5zM31 472h1v1h-1zM34 472h1v1h-1zM43 472h3v1h-3zM49 472h4v1h-4zM95 472h3v1h-3zM100 472h5v1h-5zM107 472h1v1h-1zM110 472h1v1h-1zM119 472h3v1h-3zM128 472h1v1h-1zM172 472h3v1h-3zM177 472h5v1h-5zM184 472h1v1h-1zM187 472h1v1h-1zM196 472h3v1h-3zM202 472h4v1h-4zM248 472h3v1h-3zM253 472h5v1h-5zM260 472h1v1h-1zM263 472h1v1h-1zM272 472h3v1h-3zM279 472h3v1h-3zM324 472h3v1h-3zM329 472h5v1h-5zM336 472h1v1h-1zM339 472h1v1h-1zM348 472h3v1h-3zM355 472h1v1h-1zM400 472h3v1h-3zM405 472h5v1h-5zM412 472h1v1h-1zM415 472h1v1h-1zM424 472h3v1h-3zM430 472h4v1h-4zM477 472h3v1h-3zM482 472h5v1h-5zM489 472h1v1h-1zM492 472h1v1h-1zM501 472h3v1h-3zM507 472h4v1h-4zM553 472h3v1h-3zM558 472h5v1h-5zM565 472h1v1h-1zM568 472h1v1h-1zM578 472h1v1h-1zM584 472h3v1h-3zM375 478h2v1h-2zM403 478h2v1h-2zM196 479h2v1h-2zM228 479h1v1h-1zM231 479h2v1h-2zM251 479h1v1h-1zM270 479h1v1h-1zM275 479h1v1h-1zM286 479h2v1h-2zM325 479h1v1h-1zM334 479h6v1h-6zM341 479h2v1h-2zM375 479h1v1h-1zM378 479h1v1h-1zM384 479h1v1h-1zM386 479h7v1h-7zM397 479h2v1h-2zM404 479h1v1h-1zM194 480h2v1h-2zM198 480h2v1h-2zM228 480h1v1h-1zM232 480h1v1h-1zM251 480h1v1h-1zM270 480h1v1h-1zM275 480h1v1h-1zM287 480h1v1h-1zM325 480h1v1h-1zM337 480h1v1h-1zM342 480h1v1h-1zM374 480h1v1h-1zM378 480h1v1h-1zM384 480h1v1h-1zM389 480h1v1h-1zM395 480h2v1h-2zM399 480h2v1h-2zM405 480h1v1h-1zM193 481h1v1h-1zM199 481h1v1h-1zM228 481h1v1h-1zM251 481h1v1h-1zM270 481h1v1h-1zM275 481h1v1h-1zM325 481h1v1h-1zM337 481h1v1h-1zM373 481h1v1h-1zM378 481h1v1h-1zM384 481h1v1h-1zM389 481h1v1h-1zM394 481h1v1h-1zM400 481h1v1h-1zM405 481h1v1h-1zM193 482h1v1h-1zM204 482h2v1h-2zM212 482h2v1h-2zM218 482h1v1h-1zM220 482h3v1h-3zM225 482h4v1h-4zM232 482h1v1h-1zM235 482h1v1h-1zM237 482h2v1h-2zM245 482h2v1h-2zM248 482h1v1h-1zM250 482h4v1h-4zM258 482h2v1h-2zM270 482h1v1h-1zM275 482h1v1h-1zM279 482h1v1h-1zM281 482h2v1h-2zM287 482h1v1h-1zM289 482h1v1h-1zM294 482h1v1h-1zM299 482h2v1h-2zM304 482h1v1h-1zM307 482h2v1h-2zM311 482h2v1h-2zM319 482h2v1h-2zM322 482h1v1h-1zM325 482h1v1h-1zM337 482h1v1h-1zM342 482h1v1h-1zM345 482h1v1h-1zM347 482h2v1h-2zM352 482h2v1h-2zM359 482h2v1h-2zM373 482h1v1h-1zM378 482h1v1h-1zM384 482h1v1h-1zM389 482h1v1h-1zM394 482h1v1h-1zM405 482h1v1h-1zM193 483h1v1h-1zM202 483h2v1h-2zM206 483h2v1h-2zM210 483h2v1h-2zM214 483h2v1h-2zM218 483h2v1h-2zM224 483h1v1h-1zM227 483h2v1h-2zM232 483h1v1h-1zM235 483h2v1h-2zM239 483h1v1h-1zM243 483h2v1h-2zM247 483h2v1h-2zM251 483h1v1h-1zM256 483h2v1h-2zM260 483h1v1h-1zM270 483h1v1h-1zM275 483h1v1h-1zM279 483h2v1h-2zM283 483h1v1h-1zM287 483h1v1h-1zM289 483h1v1h-1zM294 483h1v1h-1zM297 483h2v1h-2zM301 483h1v1h-1zM304 483h3v1h-3zM310 483h1v1h-1zM313 483h2v1h-2zM317 483h2v1h-2zM321 483h2v1h-2zM325 483h1v1h-1zM337 483h1v1h-1zM342 483h1v1h-1zM345 483h2v1h-2zM349 483h1v1h-1zM351 483h1v1h-1zM354 483h1v1h-1zM358 483h1v1h-1zM361 483h2v1h-2zM373 483h1v1h-1zM378 483h1v1h-1zM384 483h1v1h-1zM389 483h1v1h-1zM394 483h1v1h-1zM406 483h1v1h-1zM193 484h1v1h-1zM202 484h1v1h-1zM207 484h1v1h-1zM210 484h1v1h-1zM215 484h1v1h-1zM218 484h1v1h-1zM224 484h1v1h-1zM228 484h1v1h-1zM232 484h1v1h-1zM235 484h1v1h-1zM240 484h1v1h-1zM243 484h1v1h-1zM248 484h1v1h-1zM251 484h1v1h-1zM256 484h1v1h-1zM261 484h1v1h-1zM270 484h1v1h-1zM275 484h1v1h-1zM279 484h1v1h-1zM283 484h1v1h-1zM287 484h1v1h-1zM290 484h1v1h-1zM293 484h1v1h-1zM297 484h1v1h-1zM302 484h1v1h-1zM304 484h1v1h-1zM310 484h1v1h-1zM317 484h1v1h-1zM322 484h1v1h-1zM325 484h1v1h-1zM337 484h1v1h-1zM342 484h1v1h-1zM345 484h1v1h-1zM350 484h1v1h-1zM354 484h1v1h-1zM358 484h1v1h-1zM362 484h1v1h-1zM373 484h1v1h-1zM378 484h1v1h-1zM384 484h1v1h-1zM389 484h1v1h-1zM394 484h1v1h-1zM406 484h1v1h-1zM193 485h1v1h-1zM202 485h1v1h-1zM207 485h1v1h-1zM210 485h1v1h-1zM215 485h1v1h-1zM218 485h1v1h-1zM223 485h1v1h-1zM228 485h1v1h-1zM232 485h1v1h-1zM235 485h1v1h-1zM240 485h1v1h-1zM243 485h1v1h-1zM248 485h1v1h-1zM251 485h1v1h-1zM256 485h6v1h-6zM270 485h1v1h-1zM275 485h1v1h-1zM279 485h1v1h-1zM283 485h1v1h-1zM287 485h1v1h-1zM290 485h1v1h-1zM293 485h1v1h-1zM296 485h7v1h-7zM304 485h1v1h-1zM311 485h4v1h-4zM317 485h1v1h-1zM322 485h1v1h-1zM325 485h1v1h-1zM337 485h1v1h-1zM342 485h1v1h-1zM345 485h1v1h-1zM350 485h1v1h-1zM354 485h1v1h-1zM357 485h6v1h-6zM373 485h1v1h-1zM378 485h1v1h-1zM384 485h1v1h-1zM389 485h1v1h-1zM394 485h1v1h-1zM406 485h1v1h-1zM193 486h1v1h-1zM199 486h1v1h-1zM202 486h1v1h-1zM207 486h1v1h-1zM210 486h1v1h-1zM215 486h1v1h-1zM218 486h1v1h-1zM223 486h1v1h-1zM228 486h1v1h-1zM232 486h1v1h-1zM235 486h1v1h-1zM240 486h1v1h-1zM243 486h1v1h-1zM248 486h1v1h-1zM251 486h1v1h-1zM256 486h1v1h-1zM270 486h1v1h-1zM275 486h1v1h-1zM279 486h1v1h-1zM283 486h1v1h-1zM287 486h1v1h-1zM291 486h1v1h-1zM293 486h1v1h-1zM296 486h1v1h-1zM304 486h1v1h-1zM314 486h1v1h-1zM317 486h1v1h-1zM322 486h1v1h-1zM325 486h1v1h-1zM337 486h1v1h-1zM342 486h1v1h-1zM345 486h1v1h-1zM350 486h1v1h-1zM354 486h1v1h-1zM357 486h1v1h-1zM373 486h1v1h-1zM378 486h1v1h-1zM384 486h1v1h-1zM389 486h1v1h-1zM394 486h1v1h-1zM400 486h1v1h-1zM406 486h1v1h-1zM194 487h1v1h-1zM199 487h1v1h-1zM202 487h1v1h-1zM207 487h1v1h-1zM210 487h1v1h-1zM215 487h1v1h-1zM218 487h1v1h-1zM224 487h1v1h-1zM228 487h1v1h-1zM232 487h1v1h-1zM235 487h1v1h-1zM240 487h1v1h-1zM243 487h1v1h-1zM248 487h1v1h-1zM251 487h1v1h-1zM256 487h1v1h-1zM261 487h1v1h-1zM270 487h1v1h-1zM275 487h1v1h-1zM279 487h1v1h-1zM283 487h1v1h-1zM287 487h1v1h-1zM291 487h2v1h-2zM297 487h1v1h-1zM302 487h1v1h-1zM304 487h1v1h-1zM310 487h1v1h-1zM314 487h1v1h-1zM317 487h1v1h-1zM322 487h1v1h-1zM325 487h1v1h-1zM337 487h1v1h-1zM342 487h1v1h-1zM345 487h1v1h-1zM350 487h1v1h-1zM354 487h1v1h-1zM358 487h1v1h-1zM362 487h1v1h-1zM373 487h1v1h-1zM379 487h1v1h-1zM384 487h1v1h-1zM389 487h1v1h-1zM395 487h1v1h-1zM400 487h1v1h-1zM405 487h1v1h-1zM195 488h4v1h-4zM203 488h4v1h-4zM211 488h4v1h-4zM218 488h1v1h-1zM224 488h5v1h-5zM232 488h1v1h-1zM235 488h1v1h-1zM240 488h1v1h-1zM244 488h5v1h-5zM252 488h2v1h-2zM257 488h4v1h-4zM271 488h4v1h-4zM279 488h1v1h-1zM283 488h1v1h-1zM287 488h1v1h-1zM292 488h1v1h-1zM298 488h4v1h-4zM304 488h1v1h-1zM310 488h5v1h-5zM318 488h5v1h-5zM325 488h1v1h-1zM337 488h1v1h-1zM342 488h1v1h-1zM345 488h1v1h-1zM350 488h1v1h-1zM354 488h1v1h-1zM358 488h4v1h-4zM373 488h1v1h-1zM380 488h4v1h-4zM389 488h1v1h-1zM396 488h4v1h-4zM405 488h1v1h-1zM374 489h1v1h-1zM405 489h1v1h-1zM375 490h1v1h-1zM404 490h1v1h-1zM376 491h1v1h-1zM403 491h1v1h-1zM446 493h1v1h-1zM445 494h1v1h-1zM2 495h4v1h-4zM8 495h3v1h-3zM24 495h3v1h-3zM40 495h1v1h-1zM56 495h3v1h-3zM69 495h3v1h-3zM77 495h3v1h-3zM86 495h3v1h-3zM93 495h6v1h-6zM112 495h1v1h-1zM147 495h1v1h-1zM161 495h3v1h-3zM171 495h1v1h-1zM177 495h6v1h-6zM187 495h2v1h-2zM405 495h1v1h-1zM411 495h1v1h-1zM416 495h3v1h-3zM426 495h1v1h-1zM433 495h1v1h-1zM445 495h1v1h-1zM450 495h3v1h-3zM456 495h1v1h-1zM460 495h1v1h-1zM464 495h1v1h-1zM467 495h5v1h-5zM478 495h3v1h-3zM491 495h5v1h-5zM516 495h1v1h-1zM524 495h1v1h-1zM554 495h3v1h-3zM562 495h2v1h-2zM576 495h1v1h-1zM581 495h1v1h-1zM586 495h3v1h-3zM595 495h1v1h-1zM3 496h2v1h-2zM9 496h1v1h-1zM26 496h1v1h-1zM39 496h2v1h-2zM57 496h2v1h-2zM68 496h1v1h-1zM71 496h2v1h-2zM76 496h1v1h-1zM80 496h1v1h-1zM85 496h1v1h-1zM88 496h2v1h-2zM97 496h1v1h-1zM112 496h1v1h-1zM144 496h3v1h-3zM148 496h2v1h-2zM160 496h2v1h-2zM164 496h1v1h-1zM170 496h2v1h-2zM181 496h1v1h-1zM186 496h1v1h-1zM189 496h1v1h-1zM405 496h2v1h-2zM411 496h1v1h-1zM415 496h2v1h-2zM419 496h2v1h-2zM426 496h1v1h-1zM433 496h1v1h-1zM444 496h1v1h-1zM448 496h2v1h-2zM453 496h2v1h-2zM456 496h1v1h-1zM460 496h1v1h-1zM464 496h1v1h-1zM467 496h1v1h-1zM472 496h2v1h-2zM476 496h2v1h-2zM481 496h2v1h-2zM491 496h1v1h-1zM496 496h2v1h-2zM516 496h1v1h-1zM524 496h1v1h-1zM552 496h2v1h-2zM556 496h2v1h-2zM561 496h1v1h-1zM564 496h1v1h-1zM576 496h1v1h-1zM581 496h1v1h-1zM584 496h2v1h-2zM589 496h2v1h-2zM595 496h1v1h-1zM3 497h2v1h-2zM9 497h1v1h-1zM26 497h1v1h-1zM39 497h2v1h-2zM57 497h2v1h-2zM67 497h1v1h-1zM72 497h1v1h-1zM76 497h1v1h-1zM81 497h1v1h-1zM84 497h1v1h-1zM89 497h1v1h-1zM96 497h1v1h-1zM112 497h1v1h-1zM144 497h1v1h-1zM149 497h1v1h-1zM160 497h1v1h-1zM165 497h1v1h-1zM169 497h1v1h-1zM171 497h1v1h-1zM180 497h1v1h-1zM185 497h1v1h-1zM190 497h1v1h-1zM405 497h2v1h-2zM411 497h1v1h-1zM414 497h1v1h-1zM420 497h1v1h-1zM425 497h1v1h-1zM427 497h1v1h-1zM432 497h1v1h-1zM434 497h1v1h-1zM444 497h1v1h-1zM448 497h1v1h-1zM456 497h1v1h-1zM460 497h1v1h-1zM464 497h1v1h-1zM467 497h1v1h-1zM473 497h1v1h-1zM476 497h1v1h-1zM482 497h1v1h-1zM491 497h1v1h-1zM497 497h1v1h-1zM516 497h1v1h-1zM524 497h1v1h-1zM552 497h1v1h-1zM558 497h1v1h-1zM560 497h1v1h-1zM565 497h1v1h-1zM576 497h1v1h-1zM581 497h1v1h-1zM584 497h1v1h-1zM594 497h1v1h-1zM596 497h1v1h-1zM3 498h2v1h-2zM9 498h1v1h-1zM12 498h6v1h-6zM22 498h5v1h-5zM30 498h5v1h-5zM38 498h4v1h-4zM46 498h4v1h-4zM54 498h5v1h-5zM72 498h1v1h-1zM76 498h1v1h-1zM81 498h1v1h-1zM89 498h1v1h-1zM95 498h2v1h-2zM112 498h1v1h-1zM115 498h1v1h-1zM120 498h1v1h-1zM123 498h5v1h-5zM144 498h1v1h-1zM150 498h1v1h-1zM164 498h2v1h-2zM171 498h1v1h-1zM179 498h3v1h-3zM185 498h1v1h-1zM191 498h1v1h-1zM405 498h1v1h-1zM407 498h1v1h-1zM411 498h1v1h-1zM414 498h1v1h-1zM421 498h1v1h-1zM425 498h1v1h-1zM427 498h1v1h-1zM432 498h1v1h-1zM434 498h1v1h-1zM443 498h1v1h-1zM448 498h2v1h-2zM457 498h1v1h-1zM459 498h1v1h-1zM461 498h1v1h-1zM463 498h1v1h-1zM467 498h1v1h-1zM473 498h1v1h-1zM476 498h1v1h-1zM491 498h1v1h-1zM497 498h1v1h-1zM501 498h4v1h-4zM508 498h1v1h-1zM513 498h1v1h-1zM516 498h1v1h-1zM520 498h5v1h-5zM528 498h4v1h-4zM535 498h5v1h-5zM551 498h1v1h-1zM560 498h1v1h-1zM565 498h1v1h-1zM576 498h1v1h-1zM581 498h1v1h-1zM585 498h1v1h-1zM594 498h1v1h-1zM596 498h1v1h-1zM3 499h2v1h-2zM9 499h1v1h-1zM13 499h2v1h-2zM18 499h1v1h-1zM21 499h2v1h-2zM26 499h1v1h-1zM30 499h2v1h-2zM34 499h2v1h-2zM39 499h2v1h-2zM45 499h1v1h-1zM49 499h2v1h-2zM53 499h1v1h-1zM57 499h2v1h-2zM72 499h1v1h-1zM75 499h1v1h-1zM81 499h1v1h-1zM89 499h1v1h-1zM97 499h2v1h-2zM112 499h1v1h-1zM115 499h1v1h-1zM120 499h1v1h-1zM123 499h1v1h-1zM127 499h1v1h-1zM144 499h1v1h-1zM149 499h2v1h-2zM164 499h1v1h-1zM171 499h1v1h-1zM181 499h2v1h-2zM185 499h1v1h-1zM191 499h1v1h-1zM405 499h1v1h-1zM408 499h1v1h-1zM411 499h1v1h-1zM414 499h1v1h-1zM421 499h1v1h-1zM424 499h1v1h-1zM427 499h1v1h-1zM432 499h1v1h-1zM435 499h1v1h-1zM443 499h1v1h-1zM450 499h2v1h-2zM457 499h1v1h-1zM459 499h1v1h-1zM461 499h1v1h-1zM463 499h1v1h-1zM467 499h1v1h-1zM472 499h2v1h-2zM476 499h1v1h-1zM491 499h6v1h-6zM500 499h1v1h-1zM505 499h1v1h-1zM508 499h1v1h-1zM513 499h1v1h-1zM516 499h1v1h-1zM519 499h1v1h-1zM524 499h1v1h-1zM528 499h1v1h-1zM532 499h1v1h-1zM535 499h2v1h-2zM551 499h1v1h-1zM559 499h1v1h-1zM565 499h1v1h-1zM576 499h1v1h-1zM581 499h1v1h-1zM586 499h2v1h-2zM594 499h1v1h-1zM597 499h1v1h-1zM3 500h2v1h-2zM9 500h1v1h-1zM13 500h2v1h-2zM18 500h1v1h-1zM21 500h2v1h-2zM26 500h1v1h-1zM31 500h5v1h-5zM39 500h2v1h-2zM44 500h7v1h-7zM52 500h2v1h-2zM57 500h2v1h-2zM71 500h1v1h-1zM75 500h1v1h-1zM81 500h1v1h-1zM88 500h1v1h-1zM98 500h1v1h-1zM112 500h1v1h-1zM115 500h1v1h-1zM120 500h1v1h-1zM123 500h1v1h-1zM128 500h1v1h-1zM145 500h1v1h-1zM148 500h1v1h-1zM150 500h1v1h-1zM164 500h1v1h-1zM171 500h1v1h-1zM182 500h1v1h-1zM185 500h1v1h-1zM191 500h1v1h-1zM405 500h1v1h-1zM408 500h1v1h-1zM411 500h1v1h-1zM414 500h1v1h-1zM421 500h1v1h-1zM424 500h1v1h-1zM428 500h1v1h-1zM431 500h1v1h-1zM435 500h1v1h-1zM442 500h1v1h-1zM452 500h2v1h-2zM457 500h1v1h-1zM459 500h1v1h-1zM461 500h1v1h-1zM463 500h1v1h-1zM467 500h5v1h-5zM476 500h1v1h-1zM491 500h1v1h-1zM496 500h2v1h-2zM500 500h1v1h-1zM505 500h1v1h-1zM508 500h1v1h-1zM513 500h1v1h-1zM516 500h1v1h-1zM519 500h1v1h-1zM524 500h1v1h-1zM528 500h1v1h-1zM532 500h1v1h-1zM535 500h1v1h-1zM551 500h1v1h-1zM559 500h1v1h-1zM565 500h1v1h-1zM576 500h1v1h-1zM581 500h1v1h-1zM588 500h3v1h-3zM593 500h1v1h-1zM597 500h1v1h-1zM3 501h2v1h-2zM9 501h1v1h-1zM13 501h2v1h-2zM18 501h1v1h-1zM21 501h2v1h-2zM26 501h1v1h-1zM30 501h2v1h-2zM34 501h2v1h-2zM39 501h2v1h-2zM44 501h2v1h-2zM52 501h2v1h-2zM57 501h2v1h-2zM70 501h1v1h-1zM75 501h1v1h-1zM81 501h1v1h-1zM87 501h1v1h-1zM98 501h1v1h-1zM107 501h1v1h-1zM112 501h1v1h-1zM115 501h1v1h-1zM120 501h1v1h-1zM123 501h1v1h-1zM128 501h1v1h-1zM146 501h2v1h-2zM150 501h1v1h-1zM163 501h1v1h-1zM171 501h1v1h-1zM182 501h1v1h-1zM185 501h1v1h-1zM190 501h1v1h-1zM405 501h1v1h-1zM409 501h1v1h-1zM411 501h1v1h-1zM414 501h1v1h-1zM421 501h1v1h-1zM423 501h6v1h-6zM431 501h6v1h-6zM441 501h1v1h-1zM453 501h2v1h-2zM457 501h1v1h-1zM459 501h1v1h-1zM461 501h1v1h-1zM463 501h1v1h-1zM467 501h1v1h-1zM476 501h1v1h-1zM491 501h1v1h-1zM497 501h1v1h-1zM500 501h1v1h-1zM505 501h1v1h-1zM508 501h1v1h-1zM513 501h1v1h-1zM516 501h1v1h-1zM519 501h1v1h-1zM524 501h1v1h-1zM527 501h6v1h-6zM535 501h1v1h-1zM551 501h1v1h-1zM559 501h1v1h-1zM565 501h1v1h-1zM576 501h1v1h-1zM581 501h1v1h-1zM590 501h1v1h-1zM593 501h6v1h-6zM3 502h2v1h-2zM8 502h1v1h-1zM13 502h2v1h-2zM17 502h2v1h-2zM21 502h2v1h-2zM26 502h1v1h-1zM30 502h2v1h-2zM34 502h2v1h-2zM39 502h2v1h-2zM43 502h1v1h-1zM45 502h2v1h-2zM50 502h1v1h-1zM53 502h2v1h-2zM57 502h2v1h-2zM69 502h1v1h-1zM76 502h1v1h-1zM81 502h1v1h-1zM86 502h1v1h-1zM92 502h1v1h-1zM98 502h1v1h-1zM107 502h1v1h-1zM112 502h1v1h-1zM115 502h1v1h-1zM120 502h1v1h-1zM123 502h1v1h-1zM128 502h1v1h-1zM149 502h1v1h-1zM161 502h2v1h-2zM171 502h1v1h-1zM176 502h1v1h-1zM182 502h1v1h-1zM185 502h1v1h-1zM190 502h1v1h-1zM405 502h1v1h-1zM410 502h2v1h-2zM414 502h1v1h-1zM420 502h1v1h-1zM423 502h1v1h-1zM428 502h1v1h-1zM431 502h1v1h-1zM436 502h1v1h-1zM441 502h1v1h-1zM454 502h1v1h-1zM458 502h1v1h-1zM462 502h1v1h-1zM467 502h1v1h-1zM476 502h1v1h-1zM482 502h1v1h-1zM491 502h1v1h-1zM497 502h1v1h-1zM500 502h1v1h-1zM505 502h1v1h-1zM508 502h1v1h-1zM513 502h1v1h-1zM516 502h1v1h-1zM519 502h1v1h-1zM524 502h1v1h-1zM527 502h1v1h-1zM535 502h1v1h-1zM552 502h1v1h-1zM558 502h1v1h-1zM560 502h1v1h-1zM565 502h1v1h-1zM576 502h1v1h-1zM581 502h1v1h-1zM590 502h1v1h-1zM593 502h1v1h-1zM598 502h1v1h-1zM4 503h5v1h-5zM13 503h5v1h-5zM22 503h7v1h-7zM30 503h7v1h-7zM40 503h3v1h-3zM46 503h4v1h-4zM54 503h6v1h-6zM68 503h1v1h-1zM76 503h1v1h-1zM80 503h1v1h-1zM85 503h1v1h-1zM93 503h1v1h-1zM98 503h1v1h-1zM108 503h1v1h-1zM111 503h1v1h-1zM115 503h1v1h-1zM119 503h2v1h-2zM123 503h1v1h-1zM128 503h1v1h-1zM144 503h1v1h-1zM149 503h1v1h-1zM160 503h1v1h-1zM171 503h1v1h-1zM177 503h1v1h-1zM182 503h1v1h-1zM185 503h1v1h-1zM189 503h1v1h-1zM405 503h1v1h-1zM410 503h2v1h-2zM415 503h1v1h-1zM420 503h1v1h-1zM422 503h1v1h-1zM429 503h2v1h-2zM437 503h1v1h-1zM440 503h1v1h-1zM448 503h1v1h-1zM454 503h1v1h-1zM458 503h1v1h-1zM462 503h1v1h-1zM467 503h1v1h-1zM476 503h1v1h-1zM482 503h1v1h-1zM491 503h1v1h-1zM497 503h1v1h-1zM500 503h1v1h-1zM505 503h1v1h-1zM508 503h1v1h-1zM512 503h2v1h-2zM516 503h1v1h-1zM519 503h1v1h-1zM524 503h1v1h-1zM528 503h1v1h-1zM532 503h1v1h-1zM535 503h1v1h-1zM541 503h1v1h-1zM552 503h1v1h-1zM557 503h1v1h-1zM560 503h1v1h-1zM564 503h1v1h-1zM576 503h1v1h-1zM581 503h1v1h-1zM584 503h1v1h-1zM590 503h1v1h-1zM592 503h1v1h-1zM599 503h1v1h-1zM13 504h2v1h-2zM67 504h7v1h-7zM76 504h5v1h-5zM84 504h7v1h-7zM93 504h5v1h-5zM108 504h4v1h-4zM115 504h4v1h-4zM120 504h1v1h-1zM123 504h1v1h-1zM128 504h1v1h-1zM145 504h4v1h-4zM159 504h7v1h-7zM171 504h1v1h-1zM177 504h5v1h-5zM186 504h4v1h-4zM405 504h1v1h-1zM411 504h1v1h-1zM416 504h4v1h-4zM422 504h1v1h-1zM429 504h2v1h-2zM437 504h1v1h-1zM440 504h1v1h-1zM449 504h5v1h-5zM458 504h1v1h-1zM462 504h1v1h-1zM467 504h1v1h-1zM477 504h5v1h-5zM491 504h6v1h-6zM501 504h4v1h-4zM508 504h4v1h-4zM513 504h1v1h-1zM516 504h1v1h-1zM520 504h5v1h-5zM528 504h4v1h-4zM535 504h1v1h-1zM541 504h2v1h-2zM553 504h4v1h-4zM561 504h4v1h-4zM577 504h4v1h-4zM585 504h6v1h-6zM592 504h1v1h-1zM599 504h1v1h-1zM13 505h2v1h-2zM439 505h1v1h-1zM541 505h1v1h-1zM12 506h4v1h-4zM439 506h1v1h-1zM541 506h1v1h-1zM438 507h1v1h-1z" fill="#000"/>
</g>
</svg></body></html>
